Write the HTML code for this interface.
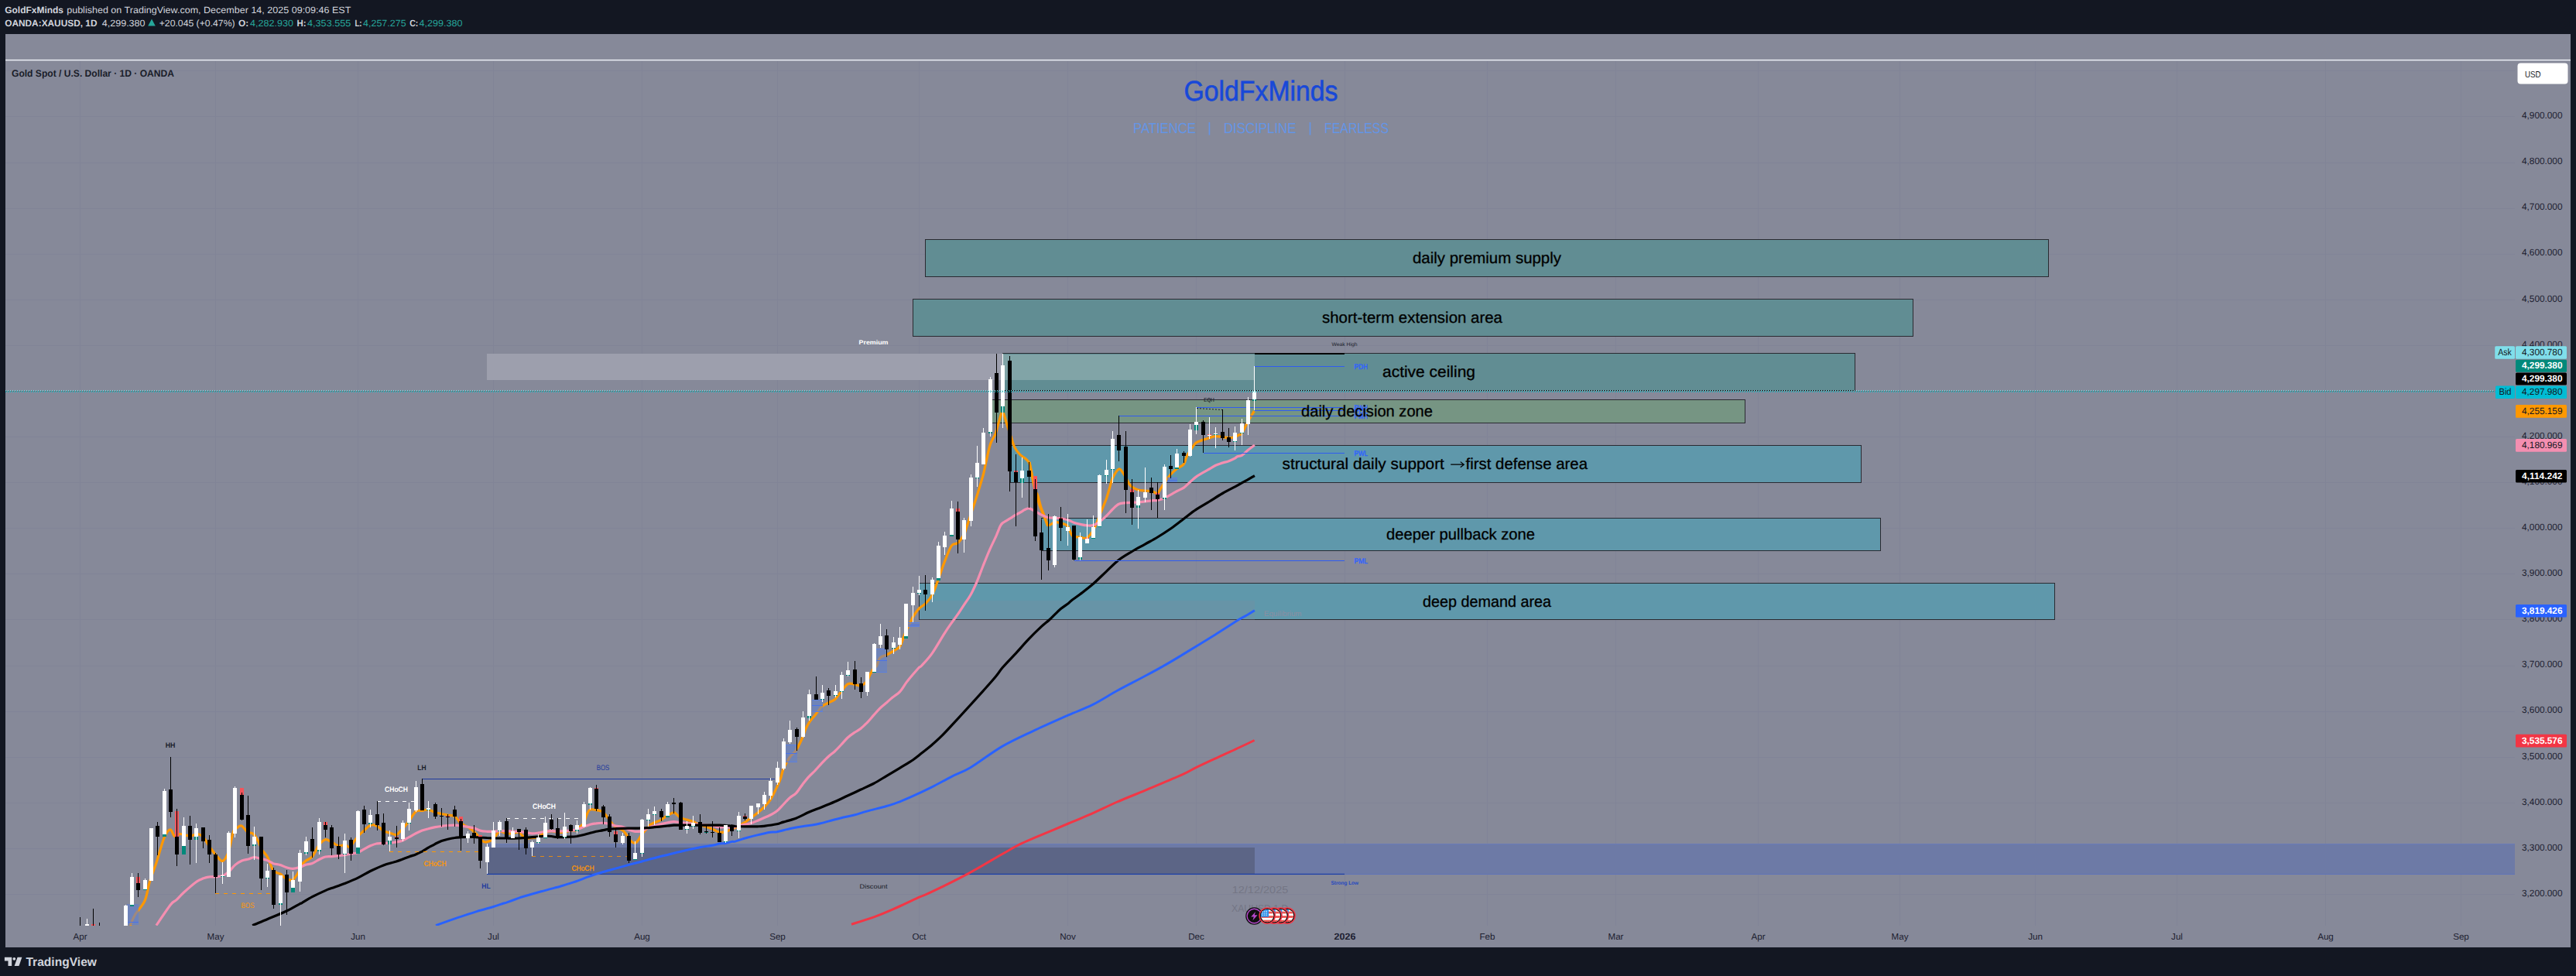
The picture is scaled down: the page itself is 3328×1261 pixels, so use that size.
<!DOCTYPE html>
<html><head><meta charset="utf-8"><title>XAUUSD</title>
<style>html,body{margin:0;padding:0;background:#131722;}body{width:3328px;height:1261px;overflow:hidden;font-family:"Liberation Sans", sans-serif;}svg{display:block}</style>
</head><body>
<svg width="3328" height="1261" viewBox="0 0 3328 1261" font-family='"Liberation Sans", sans-serif' shape-rendering="crispEdges" text-rendering="geometricPrecision">
<rect x="0" y="0" width="3328" height="1261" fill="#131722"/>
<rect x="7" y="44" width="3314" height="1180" fill="#868999"/>
<rect x="103" y="79" width="1" height="1117" fill="#818497"/>
<rect x="278" y="79" width="1" height="1117" fill="#818497"/>
<rect x="462" y="79" width="1" height="1117" fill="#818497"/>
<rect x="637" y="79" width="1" height="1117" fill="#818497"/>
<rect x="829" y="79" width="1" height="1117" fill="#818497"/>
<rect x="1004" y="79" width="1" height="1117" fill="#818497"/>
<rect x="1187" y="79" width="1" height="1117" fill="#818497"/>
<rect x="1379" y="79" width="1" height="1117" fill="#818497"/>
<rect x="1545" y="79" width="1" height="1117" fill="#818497"/>
<rect x="1737" y="79" width="1" height="1117" fill="#818497"/>
<rect x="1921" y="79" width="1" height="1117" fill="#818497"/>
<rect x="2087" y="79" width="1" height="1117" fill="#818497"/>
<rect x="2271" y="79" width="1" height="1117" fill="#818497"/>
<rect x="2454" y="79" width="1" height="1117" fill="#818497"/>
<rect x="2629" y="79" width="1" height="1117" fill="#818497"/>
<rect x="2812" y="79" width="1" height="1117" fill="#818497"/>
<rect x="3004" y="79" width="1" height="1117" fill="#818497"/>
<rect x="3179" y="79" width="1" height="1117" fill="#818497"/>
<rect x="7" y="1155" width="3242" height="1" fill="#818497"/>
<rect x="7" y="1096" width="3242" height="1" fill="#818497"/>
<rect x="7" y="1037" width="3242" height="1" fill="#818497"/>
<rect x="7" y="978" width="3242" height="1" fill="#818497"/>
<rect x="7" y="919" width="3242" height="1" fill="#818497"/>
<rect x="7" y="860" width="3242" height="1" fill="#818497"/>
<rect x="7" y="800" width="3242" height="1" fill="#818497"/>
<rect x="7" y="741" width="3242" height="1" fill="#818497"/>
<rect x="7" y="682" width="3242" height="1" fill="#818497"/>
<rect x="7" y="623" width="3242" height="1" fill="#818497"/>
<rect x="7" y="564" width="3242" height="1" fill="#818497"/>
<rect x="7" y="505" width="3242" height="1" fill="#818497"/>
<rect x="7" y="446" width="3242" height="1" fill="#818497"/>
<rect x="7" y="387" width="3242" height="1" fill="#818497"/>
<rect x="7" y="328" width="3242" height="1" fill="#818497"/>
<rect x="7" y="269" width="3242" height="1" fill="#818497"/>
<rect x="7" y="210" width="3242" height="1" fill="#818497"/>
<rect x="7" y="150" width="3242" height="1" fill="#818497"/>
<rect x="7" y="91" width="3242" height="1" fill="#818497"/>
<rect x="629" y="457" width="667" height="34" fill="#9d9fad"/>
<rect x="629" y="1090" width="2620" height="40" fill="#6d7aa6"/>
<rect x="629" y="1090" width="2620" height="1" fill="#6a7bb8"/>
<rect x="629" y="1129" width="2620" height="1" fill="#5e73b8"/>
<rect x="629" y="1095" width="992" height="35" fill="#5c6586"/>
<rect x="629" y="1128.8" width="1108" height="1.25" fill="#1c3fa8" shape-rendering="geometricPrecision"/>
<rect x="1195" y="309" width="1452" height="49" fill="#2a2a31"/>
<rect x="1196" y="310" width="1450" height="47" fill="#618d93"/>
<rect x="1179" y="386" width="1293" height="49" fill="#2a2a31"/>
<rect x="1180" y="387" width="1291" height="47" fill="#618d93"/>
<rect x="1295" y="456" width="1102" height="49" fill="#2a2a31"/>
<rect x="1296" y="457" width="1100" height="47" fill="#618d93"/>
<rect x="1296" y="458" width="325" height="33" fill="#81a4a7"/>
<rect x="1280" y="516" width="975" height="31" fill="#2a2a31"/>
<rect x="1281" y="517" width="973" height="29" fill="#769583"/>
<rect x="1305" y="575" width="1100" height="49" fill="#2a2a31"/>
<rect x="1306" y="576" width="1098" height="47" fill="#5f98ab"/>
<rect x="1345" y="669" width="1085" height="43" fill="#2a2a31"/>
<rect x="1346" y="670" width="1083" height="41" fill="#5f98ab"/>
<rect x="1187" y="753" width="1468" height="48" fill="#2a2a31"/>
<rect x="1188" y="754" width="1466" height="46" fill="#5f98ab"/>
<rect x="1188" y="776" width="433" height="25" fill="#868999" fill-opacity="0.2"/>
<!--ZONES-->
<defs><clipPath id="pane"><rect x="7" y="79" width="3242" height="1117"/></clipPath></defs>
<g clip-path="url(#pane)">
<path d="M1100.0,1194.2C1105.3,1192.5 1121.8,1187.4 1131.6,1183.8C1141.4,1180.2 1149.3,1176.6 1158.8,1172.5C1168.2,1168.4 1180.6,1162.3 1188.1,1158.9C1195.7,1155.6 1193.8,1157.1 1203.9,1152.2C1214.1,1147.3 1234.1,1137.6 1249.1,1129.6C1264.2,1121.5 1283.0,1110.2 1294.3,1103.8C1305.6,1097.4 1309.4,1094.9 1316.9,1091.2C1324.5,1087.4 1329.0,1085.7 1339.5,1081.2C1350.1,1076.7 1368.9,1068.8 1380.2,1064.0C1391.5,1059.3 1396.8,1057.4 1407.3,1052.7C1417.9,1048.1 1431.4,1041.3 1443.5,1036.0C1455.5,1030.8 1465.3,1027.1 1479.6,1021.1C1493.9,1015.1 1518.4,1004.8 1529.3,999.9C1540.3,995.0 1536.9,995.7 1545.2,991.7C1553.4,987.7 1569.6,980.3 1579.0,975.9C1588.5,971.5 1594.7,968.8 1601.6,965.5C1608.6,962.3 1617.5,958.0 1620.6,956.5" fill="none" stroke="#f23645" stroke-width="3.0" stroke-linejoin="round" stroke-linecap="butt" shape-rendering="geometricPrecision"/>
<path d="M563.0,1195.6C567.7,1193.9 582.5,1188.7 591.3,1185.7C600.1,1182.7 608.2,1180.0 615.9,1177.6C623.6,1175.2 631.6,1173.2 637.3,1171.5C643.0,1169.8 647.2,1168.2 650.0,1167.3C652.8,1166.4 650.9,1167.2 654.3,1166.1C657.6,1164.9 666.6,1161.6 670.0,1160.4C673.4,1159.2 669.7,1160.1 674.6,1158.7C679.5,1157.3 691.0,1154.1 699.2,1151.8C707.4,1149.5 717.2,1147.0 723.8,1145.2C730.3,1143.3 733.6,1142.4 738.5,1140.7C743.4,1139.1 748.0,1137.3 753.3,1135.3C758.6,1133.4 764.5,1131.0 770.2,1129.2C776.0,1127.3 780.7,1126.2 787.7,1124.3C794.7,1122.3 805.4,1119.3 812.3,1117.4C819.2,1115.5 822.3,1114.8 829.3,1113.0C836.3,1111.1 846.0,1108.4 854.3,1106.3C862.7,1104.2 871.1,1102.1 879.4,1100.2C887.7,1098.2 897.4,1096.1 904.3,1094.8C911.1,1093.4 916.2,1093.1 920.5,1092.3C924.8,1091.5 927.2,1090.4 930.0,1089.9C932.8,1089.5 934.9,1090.0 937.5,1089.6C940.0,1089.2 943.2,1087.9 945.2,1087.5C947.3,1087.0 947.3,1087.8 950.0,1087.1C952.7,1086.4 957.0,1084.7 961.7,1083.3C966.5,1081.9 972.9,1080.2 978.4,1078.9C984.0,1077.5 991.0,1075.9 995.2,1075.2C999.3,1074.5 999.3,1075.4 1003.5,1074.7C1007.7,1073.9 1014.7,1071.9 1020.2,1070.7C1025.8,1069.6 1031.2,1068.7 1036.7,1067.8C1042.3,1066.9 1047.9,1066.4 1053.4,1065.3C1059.0,1064.2 1064.6,1062.6 1070.2,1061.1C1075.7,1059.7 1081.3,1058.1 1086.9,1056.7C1092.5,1055.4 1098.1,1054.5 1103.6,1053.0C1109.1,1051.6 1113.2,1050.0 1120.1,1048.1C1127.0,1046.2 1138.1,1043.5 1145.2,1041.5C1152.2,1039.4 1156.6,1038.0 1162.4,1035.8C1168.1,1033.6 1172.8,1031.5 1179.6,1028.4C1186.4,1025.4 1194.5,1021.6 1203.0,1017.4C1211.4,1013.2 1221.5,1007.4 1230.0,1003.1C1238.5,998.8 1242.9,998.1 1253.7,991.7C1264.4,985.3 1280.8,972.5 1294.3,964.6C1307.9,956.7 1320.7,951.1 1335.0,944.3C1349.3,937.5 1367.4,929.6 1380.2,923.9C1393.0,918.3 1401.3,915.7 1411.8,910.4C1422.4,905.1 1432.2,898.5 1443.5,892.3C1454.8,886.1 1469.1,879.0 1479.6,873.3C1490.2,867.7 1498.5,863.2 1506.7,858.4C1515.0,853.7 1518.8,851.3 1529.3,844.9C1539.9,838.5 1557.9,827.5 1570.0,820.0C1582.1,812.5 1594.8,804.0 1601.7,799.8C1608.7,795.5 1608.6,796.2 1611.8,794.3C1615.0,792.5 1619.4,789.6 1620.9,788.7" fill="none" stroke="#2962ff" stroke-width="3.0" stroke-linejoin="round" stroke-linecap="butt" shape-rendering="geometricPrecision"/>
<path d="M168.2,1195.6C169.3,1193.2 171.7,1186.6 174.8,1181.3C178.0,1176.0 184.1,1170.6 187.1,1163.6C190.2,1156.6 190.8,1147.6 193.3,1139.5C195.7,1131.4 198.7,1124.5 201.9,1114.9C205.0,1105.4 209.2,1089.4 212.2,1082.2C215.2,1075.0 217.6,1072.2 219.8,1071.9C222.1,1071.6 223.6,1079.5 225.7,1080.5C227.9,1081.4 230.2,1077.7 232.6,1077.5C235.0,1077.3 237.5,1078.9 240.0,1079.3C242.5,1079.6 244.9,1080.0 247.4,1079.8C249.8,1079.5 252.3,1077.3 254.8,1077.5C257.2,1077.7 259.5,1078.2 262.1,1081.0C264.8,1083.7 267.9,1090.0 270.7,1094.0C273.6,1098.0 276.6,1102.0 279.3,1105.1C282.1,1108.2 284.8,1113.3 287.5,1112.5C290.1,1111.6 293.0,1106.5 295.3,1100.2C297.7,1093.8 299.6,1079.5 301.5,1074.3C303.3,1069.2 304.6,1070.7 306.4,1069.4C308.2,1068.2 309.8,1066.0 312.0,1067.0C314.3,1067.9 317.4,1073.3 319.9,1075.1C322.5,1076.8 325.0,1075.6 327.3,1077.5C329.5,1079.5 331.6,1083.3 333.4,1086.6C335.3,1090.0 336.3,1094.2 338.4,1097.7C340.4,1101.2 343.3,1103.0 345.7,1107.5C348.2,1112.0 350.4,1121.1 353.1,1124.8C355.9,1128.4 359.4,1127.4 362.2,1129.2C365.1,1131.0 367.5,1134.3 370.2,1135.6C372.8,1136.8 375.6,1138.2 378.3,1136.6C380.9,1135.0 384.2,1129.2 386.1,1126.0C388.1,1122.8 388.6,1119.6 390.0,1117.4C391.4,1115.1 392.3,1114.2 394.6,1112.5C396.8,1110.7 400.5,1110.3 403.4,1106.8C406.4,1103.3 409.5,1095.2 412.3,1091.6C415.1,1087.9 417.7,1085.3 420.4,1084.7C423.1,1084.1 425.5,1086.5 428.3,1087.9C431.1,1089.2 434.3,1092.2 437.1,1092.8C440.0,1093.4 443.1,1091.4 445.2,1091.6C447.4,1091.8 448.6,1093.8 449.9,1094.0C451.3,1094.2 451.3,1095.0 453.4,1092.8C455.5,1090.5 459.6,1083.8 462.5,1080.5C465.3,1077.2 467.7,1075.5 470.3,1073.1C473.0,1070.7 476.1,1067.4 478.4,1066.2C480.8,1065.1 482.3,1065.7 484.3,1066.2C486.4,1066.8 488.6,1068.2 490.5,1069.4C492.3,1070.7 493.3,1072.5 495.4,1073.6C497.5,1074.7 500.5,1075.2 503.3,1076.1C506.1,1076.9 509.8,1078.9 512.1,1078.5C514.5,1078.1 515.8,1075.3 517.5,1073.6C519.3,1071.9 520.7,1070.3 522.5,1068.2C524.3,1066.1 525.9,1064.1 528.4,1060.8C530.8,1057.5 534.4,1050.8 537.2,1048.5C540.0,1046.3 542.6,1047.7 545.3,1047.3C548.0,1046.9 550.6,1045.7 553.4,1046.1C556.3,1046.5 559.5,1048.9 562.3,1049.8C565.1,1050.7 567.7,1050.9 570.4,1051.5C573.1,1052.0 575.7,1052.4 578.5,1053.0C581.4,1053.5 584.8,1053.2 587.4,1054.7C589.9,1056.2 591.9,1060.2 593.8,1062.0C595.7,1063.9 596.6,1064.5 598.7,1065.7C600.7,1067.0 603.6,1067.8 606.1,1069.4C608.5,1071.1 611.4,1073.7 613.4,1075.6C615.5,1077.4 616.7,1078.6 618.4,1080.5C620.0,1082.3 621.6,1085.4 623.3,1086.6C624.9,1087.9 625.9,1088.3 628.2,1087.9C630.5,1087.5 635.0,1085.8 637.3,1084.2C639.5,1082.5 640.4,1079.8 641.7,1078.0C643.1,1076.3 644.0,1074.1 645.4,1073.6C646.8,1073.2 648.7,1074.8 650.2,1075.3C651.6,1075.9 653.1,1076.6 654.3,1076.8C655.5,1077.0 656.0,1076.8 657.4,1076.8C658.7,1076.8 660.2,1076.8 662.3,1076.6C664.5,1076.3 668.0,1074.7 670.2,1075.3C672.5,1076.0 674.1,1079.2 675.8,1080.5C677.6,1081.8 678.8,1082.6 680.7,1083.0C682.7,1083.3 685.0,1082.7 687.4,1082.5C689.8,1082.2 692.4,1082.4 695.2,1081.2C698.1,1080.1 701.5,1076.8 704.3,1075.6C707.2,1074.3 709.8,1073.7 712.5,1073.6C715.1,1073.5 717.5,1074.8 720.3,1075.1C723.1,1075.3 726.4,1075.4 729.2,1075.1C732.0,1074.8 734.6,1073.5 737.3,1073.1C740.0,1072.7 743.4,1073.4 745.4,1072.6C747.5,1071.8 748.1,1069.8 749.6,1068.2C751.1,1066.6 752.8,1065.9 754.3,1063.3C755.7,1060.6 756.8,1055.1 758.2,1052.2C759.5,1049.3 760.4,1047.0 762.4,1046.1C764.4,1045.1 767.9,1046.2 770.2,1046.6C772.6,1046.9 775.1,1047.5 776.6,1048.0C778.2,1048.6 778.1,1048.6 779.3,1049.8C780.6,1050.9 782.7,1053.0 784.0,1054.7C785.4,1056.3 786.0,1057.7 787.5,1059.6C788.9,1061.5 790.9,1064.6 792.6,1066.2C794.3,1067.9 795.6,1068.4 797.5,1069.4C799.5,1070.5 802.3,1071.3 804.2,1072.6C806.0,1074.0 807.3,1075.8 808.6,1077.5C810.0,1079.3 811.1,1081.3 812.3,1083.0C813.5,1084.6 814.6,1086.4 816.0,1087.4C817.3,1088.4 819.0,1089.4 820.4,1089.1C821.8,1088.8 823.1,1087.3 824.6,1085.4C826.1,1083.6 827.6,1080.3 829.3,1078.0C830.9,1075.8 832.5,1074.0 834.4,1071.9C836.3,1069.8 838.7,1066.8 840.6,1065.2C842.4,1063.7 843.2,1063.8 845.5,1062.8C847.8,1061.8 851.5,1060.7 854.3,1059.1C857.2,1057.5 859.8,1055.0 862.5,1053.4C865.2,1051.9 868.5,1049.8 870.6,1049.8C872.7,1049.7 873.5,1051.8 875.0,1053.0C876.5,1054.1 877.4,1055.6 879.4,1056.6C881.5,1057.7 884.6,1058.3 887.3,1059.1C890.0,1059.9 892.6,1060.5 895.4,1061.6C898.2,1062.7 901.4,1064.6 904.3,1065.7C907.1,1066.8 909.7,1067.3 912.4,1068.2C915.1,1069.1 917.6,1069.9 920.5,1071.1C923.4,1072.4 927.1,1074.9 929.7,1075.5C932.3,1076.1 934.3,1075.1 936.1,1074.8C937.8,1074.4 938.6,1074.2 940.2,1073.6C941.7,1073.0 943.8,1071.8 945.4,1071.1C947.0,1070.4 948.6,1070.1 950.0,1069.4C951.4,1068.8 951.7,1068.4 953.6,1067.3C955.6,1066.2 959.0,1064.6 961.7,1062.9C964.5,1061.1 967.3,1058.8 970.1,1056.7C972.9,1054.7 975.7,1052.8 978.4,1050.6C981.2,1048.3 984.0,1046.1 986.8,1043.2C989.6,1040.3 992.4,1037.7 995.2,1033.4C998.0,1029.1 1001.3,1022.1 1003.5,1017.4C1005.8,1012.7 1007.3,1009.0 1008.7,1005.1C1010.1,1001.2 1010.0,998.4 1011.9,994.0C1013.8,989.6 1017.5,982.6 1020.2,978.5C1023.0,974.4 1025.6,973.7 1028.4,969.4C1031.1,965.2 1034.7,957.5 1036.7,953.0C1038.8,948.4 1039.3,945.6 1040.7,942.4C1042.0,939.2 1043.0,936.9 1045.1,933.8C1047.2,930.6 1050.7,926.9 1053.4,923.4C1056.2,920.0 1059.0,915.5 1061.8,912.9C1064.6,910.3 1067.4,909.5 1070.2,908.0C1073.0,906.4 1075.7,906.2 1078.5,903.8C1081.3,901.3 1084.1,896.5 1086.9,893.2C1089.7,889.9 1092.5,885.4 1095.2,883.9C1098.0,882.3 1100.9,883.5 1103.6,883.9C1106.4,884.2 1109.0,886.4 1111.7,885.8C1114.5,885.2 1118.1,882.6 1120.1,880.3C1122.1,878.1 1122.2,875.1 1123.6,872.3C1125.1,869.6 1127.3,865.8 1128.8,863.7C1130.3,861.7 1131.6,862.2 1132.9,860.0C1134.2,857.8 1134.5,852.6 1136.6,850.2C1138.6,847.9 1142.2,847.6 1145.2,846.1C1148.1,844.5 1151.4,842.9 1154.3,841.1C1157.1,839.4 1160.4,837.9 1162.4,835.5C1164.3,833.1 1164.8,830.2 1166.1,826.9C1167.4,823.6 1168.8,819.1 1170.2,815.8C1171.7,812.5 1173.2,810.3 1174.7,807.2C1176.2,804.1 1177.3,800.9 1179.3,797.4C1181.4,793.9 1184.5,789.2 1187.2,786.3C1189.9,783.4 1192.5,783.0 1195.3,780.2C1198.2,777.3 1201.4,774.4 1204.2,769.1C1207.0,763.8 1209.6,755.4 1212.3,748.2C1215.0,741.0 1217.3,733.2 1220.2,726.1C1223.0,718.9 1226.4,709.3 1229.3,705.2C1232.1,701.1 1234.7,703.9 1237.4,701.5C1240.1,699.0 1243.5,694.0 1245.5,690.4C1247.5,686.8 1247.7,684.1 1249.2,679.8C1250.7,675.4 1252.1,671.1 1254.3,664.2C1256.6,657.3 1260.1,647.0 1262.8,638.4C1265.5,629.7 1268.8,619.0 1270.6,612.1C1272.4,605.3 1272.3,603.7 1273.8,597.4C1275.2,591.0 1277.4,580.2 1279.4,574.0C1281.5,567.9 1284.1,565.6 1286.1,560.5C1288.0,555.4 1289.4,548.0 1291.0,543.3C1292.5,538.6 1293.8,531.4 1295.4,532.2C1297.0,533.0 1299.1,543.1 1300.8,548.2C1302.5,553.3 1304.1,558.0 1305.7,563.0C1307.4,567.9 1308.6,573.6 1310.7,577.7C1312.7,581.8 1314.9,584.3 1318.0,587.5C1321.1,590.8 1326.7,592.5 1329.3,597.4C1332.0,602.3 1332.7,611.3 1334.0,617.0C1335.4,622.8 1336.0,626.1 1337.5,631.8C1338.9,637.5 1340.9,646.1 1342.6,651.5C1344.3,656.8 1345.7,659.1 1347.5,663.8C1349.4,668.5 1352.7,677.1 1353.7,679.8" fill="none" stroke="#ff9800" stroke-width="3.2" stroke-linejoin="round" stroke-linecap="butt" shape-rendering="geometricPrecision"/>
<path d="M1330.0,596.9C1330.6,600.2 1332.5,610.4 1333.7,616.6C1334.9,622.7 1336.2,629.9 1337.4,633.8C1338.5,637.7 1339.3,636.2 1340.7,640.0C1342.0,643.8 1343.6,651.6 1345.3,656.6C1346.9,661.5 1349.0,665.8 1350.5,669.5C1352.0,673.2 1352.3,677.8 1354.3,678.7C1356.2,679.6 1359.7,675.2 1362.4,674.8C1365.1,674.3 1367.7,675.1 1370.5,675.9C1373.3,676.6 1376.7,676.9 1379.0,679.3C1381.2,681.7 1382.7,688.0 1384.1,690.3C1385.5,692.7 1385.7,692.7 1387.5,693.3C1389.4,693.9 1392.6,693.8 1395.4,694.0C1398.2,694.3 1401.3,696.5 1404.3,694.8C1407.2,693.1 1410.4,688.6 1413.2,683.8C1415.9,679.0 1418.6,670.6 1420.5,666.0C1422.5,661.3 1423.2,659.5 1424.7,655.9C1426.1,652.3 1427.8,648.6 1429.3,644.5C1430.7,640.4 1431.9,635.8 1433.3,631.3C1434.6,626.9 1435.4,622.0 1437.4,617.8C1439.4,613.6 1443.2,607.3 1445.4,606.1C1447.6,604.9 1449.0,608.6 1450.5,610.4C1452.0,612.2 1453.1,614.4 1454.5,616.8C1455.8,619.2 1457.3,622.7 1458.6,624.8C1460.0,626.8 1460.5,627.7 1462.5,629.1C1464.4,630.5 1467.6,632.2 1470.5,633.0C1473.3,633.9 1476.5,633.8 1479.3,634.0C1482.1,634.3 1485.2,634.2 1487.4,634.6C1489.6,635.1 1491.3,636.2 1492.6,636.7C1494.0,637.2 1494.3,638.7 1495.5,637.7C1496.7,636.7 1498.4,633.2 1499.8,630.9C1501.3,628.6 1502.2,626.9 1504.3,623.9C1506.4,620.9 1509.8,615.9 1512.5,612.9C1515.2,609.8 1517.7,607.7 1520.6,605.5C1523.4,603.3 1527.3,602.5 1529.4,599.8C1531.5,597.2 1531.7,592.7 1533.2,589.7C1534.7,586.6 1536.2,584.4 1538.2,581.5C1540.2,578.5 1542.6,574.3 1545.3,572.1C1548.0,569.9 1551.6,569.4 1554.5,568.3C1557.3,567.3 1559.7,566.5 1562.3,565.7C1565.0,565.0 1567.6,563.8 1570.4,563.6C1573.2,563.5 1576.5,564.2 1579.3,564.6C1582.2,564.9 1584.8,565.8 1587.5,565.7C1590.2,565.7 1593.3,565.1 1595.5,564.4C1597.7,563.8 1599.0,562.7 1600.5,562.0C1602.0,561.2 1602.5,562.6 1604.4,559.8C1606.4,556.9 1609.6,549.5 1612.3,544.8C1614.9,540.0 1619.0,533.4 1620.3,531.1" fill="none" stroke="#ff9800" stroke-width="3.2" stroke-linejoin="round" stroke-linecap="butt" shape-rendering="geometricPrecision"/>
<path d="M201.9,1195.6C205.0,1191.1 216.0,1174.5 220.3,1169.0C224.6,1163.6 224.8,1165.5 227.7,1162.9C230.6,1160.2 233.2,1156.9 237.5,1153.0C241.8,1149.1 249.4,1142.5 253.5,1139.5C257.6,1136.5 259.3,1136.2 262.1,1135.1C265.0,1134.0 267.9,1133.2 270.7,1132.9C273.6,1132.5 276.3,1133.2 279.3,1132.9C282.4,1132.5 286.3,1132.2 289.2,1130.9C292.0,1129.6 294.1,1127.5 296.6,1125.2C299.0,1123.0 301.3,1119.6 303.9,1117.4C306.6,1115.2 309.7,1113.2 312.5,1112.0C315.4,1110.7 318.5,1110.7 321.1,1110.0C323.8,1109.3 325.8,1107.7 328.3,1107.5C330.7,1107.4 333.2,1108.6 335.9,1109.3C338.6,1109.9 341.6,1110.2 344.5,1111.2C347.4,1112.3 350.2,1114.6 353.1,1115.7C356.0,1116.7 358.9,1116.5 361.7,1117.4C364.6,1118.2 367.4,1120.0 370.2,1120.8C372.9,1121.6 375.3,1122.4 378.3,1122.3C381.2,1122.2 385.3,1121.0 388.0,1120.2C390.7,1119.4 392.0,1118.2 394.6,1117.4C397.2,1116.6 400.5,1116.6 403.4,1115.4C406.4,1114.3 409.5,1111.9 412.3,1110.5C415.1,1109.1 417.7,1107.7 420.4,1107.0C423.1,1106.4 425.5,1106.8 428.3,1106.6C431.1,1106.3 434.3,1105.9 437.1,1105.6C440.0,1105.2 442.5,1105.0 445.2,1104.6C448.0,1104.2 450.5,1103.6 453.4,1103.1C456.2,1102.6 459.6,1102.4 462.5,1101.4C465.3,1100.4 467.7,1098.6 470.3,1097.2C473.0,1095.8 475.6,1094.0 478.4,1092.8C481.3,1091.6 484.5,1090.4 487.3,1089.8C490.1,1089.3 492.7,1089.7 495.4,1089.6C498.1,1089.5 500.5,1089.4 503.3,1089.1C506.1,1088.8 509.3,1088.4 512.1,1087.9C515.0,1087.3 517.5,1086.9 520.2,1085.9C523.0,1084.9 525.5,1083.2 528.4,1081.7C531.2,1080.2 534.4,1078.2 537.2,1076.8C540.0,1075.4 542.6,1074.1 545.3,1073.1C548.0,1072.1 550.6,1071.4 553.4,1070.7C556.3,1069.9 559.5,1069.2 562.3,1068.7C565.1,1068.2 567.7,1067.8 570.4,1067.5C573.1,1067.1 575.7,1066.7 578.5,1066.5C581.4,1066.3 584.5,1066.1 587.4,1066.2C590.2,1066.3 592.8,1066.6 595.5,1067.0C598.2,1067.3 600.5,1067.7 603.4,1068.2C606.2,1068.7 609.6,1069.1 612.5,1069.9C615.3,1070.7 617.5,1072.4 620.3,1073.1C623.1,1073.9 626.4,1074.1 629.2,1074.3C632.0,1074.5 634.6,1074.5 637.3,1074.3C640.0,1074.2 643.3,1073.7 645.4,1073.6C647.5,1073.5 648.5,1073.6 650.0,1073.6C651.5,1073.6 652.2,1073.5 654.3,1073.6C656.3,1073.7 659.6,1074.2 662.3,1074.3C665.0,1074.5 667.4,1074.1 670.2,1074.3C673.0,1074.5 676.4,1075.2 679.3,1075.6C682.1,1076.0 684.7,1076.7 687.4,1076.8C690.0,1076.9 692.4,1076.5 695.2,1076.1C698.1,1075.7 701.5,1074.8 704.3,1074.3C707.2,1073.9 709.8,1073.6 712.5,1073.6C715.1,1073.6 717.5,1074.3 720.3,1074.3C723.1,1074.3 726.4,1073.8 729.2,1073.6C732.0,1073.4 734.6,1073.4 737.3,1073.1C740.0,1072.8 742.6,1072.7 745.4,1071.9C748.2,1071.1 751.4,1069.3 754.3,1068.2C757.1,1067.1 759.7,1066.0 762.4,1065.2C765.0,1064.5 767.4,1064.1 770.2,1063.8C773.1,1063.4 776.5,1063.2 779.3,1063.3C782.2,1063.4 784.8,1063.9 787.5,1064.5C790.1,1065.1 792.5,1066.4 795.3,1067.0C798.1,1067.6 801.4,1067.4 804.2,1068.2C807.0,1069.0 809.6,1070.9 812.3,1071.9C815.0,1072.9 817.6,1074.1 820.4,1074.3C823.2,1074.6 826.4,1074.4 829.3,1073.6C832.1,1072.8 834.7,1070.5 837.4,1069.4C840.1,1068.3 842.7,1067.8 845.5,1067.0C848.3,1066.1 851.5,1065.2 854.3,1064.5C857.2,1063.8 859.8,1063.3 862.5,1062.8C865.2,1062.3 867.7,1061.6 870.6,1061.6C873.4,1061.6 876.6,1062.5 879.4,1062.8C882.2,1063.1 884.6,1063.0 887.3,1063.3C890.0,1063.6 892.6,1064.2 895.4,1064.5C898.2,1064.8 901.4,1065.0 904.3,1065.2C907.1,1065.5 909.7,1065.9 912.4,1066.2C915.1,1066.5 917.6,1066.5 920.5,1067.0C923.4,1067.4 926.8,1068.8 929.7,1069.0C932.5,1069.2 934.9,1068.1 937.5,1068.2C940.1,1068.3 943.2,1069.8 945.2,1069.8C947.3,1069.8 948.6,1068.6 950.0,1068.2C951.4,1067.8 951.7,1067.8 953.6,1067.3C955.6,1066.8 959.0,1065.9 961.7,1065.3C964.5,1064.7 967.3,1064.4 970.1,1063.6C972.9,1062.8 975.7,1061.6 978.4,1060.4C981.2,1059.3 984.0,1058.0 986.8,1056.7C989.6,1055.5 992.4,1054.5 995.2,1053.0C998.0,1051.6 1000.7,1050.4 1003.5,1048.1C1006.3,1045.9 1009.1,1042.4 1011.9,1039.5C1014.7,1036.6 1017.5,1033.4 1020.2,1030.9C1023.0,1028.4 1025.6,1027.6 1028.4,1024.8C1031.1,1021.9 1033.9,1017.3 1036.7,1013.7C1039.5,1010.1 1042.3,1006.4 1045.1,1003.4C1047.9,1000.3 1050.7,998.2 1053.4,995.2C1056.2,992.3 1059.0,988.9 1061.8,985.9C1064.6,983.0 1067.4,980.1 1070.2,977.5C1073.0,975.0 1075.7,973.2 1078.5,970.7C1081.3,968.1 1084.1,965.0 1086.9,962.0C1089.7,959.1 1092.5,955.5 1095.2,953.0C1098.0,950.4 1100.9,948.4 1103.6,946.6C1106.4,944.7 1109.0,943.8 1111.7,941.6C1114.5,939.5 1117.3,936.6 1120.1,933.8C1122.9,930.9 1125.7,927.5 1128.4,924.4C1131.2,921.4 1133.8,918.1 1136.6,915.3C1139.3,912.6 1142.3,910.4 1145.2,908.0C1148.0,905.5 1150.9,902.9 1153.8,900.6C1156.6,898.2 1159.4,897.2 1162.4,893.9C1165.3,890.7 1168.5,885.0 1171.6,880.9C1174.7,876.9 1178.2,872.9 1180.8,869.8C1183.4,866.8 1185.6,864.2 1187.2,862.5C1188.9,860.9 1187.8,863.1 1190.7,860.0C1193.5,856.9 1199.3,851.1 1204.2,844.1C1209.1,837.1 1216.0,824.8 1220.2,818.3C1224.3,811.7 1226.4,808.9 1229.3,804.8C1232.1,800.7 1234.7,797.6 1237.4,793.7C1240.1,789.8 1242.7,785.7 1245.5,781.4C1248.3,777.1 1251.6,772.8 1254.3,767.9C1257.1,763.0 1259.3,758.0 1262.0,751.9C1264.6,745.7 1267.3,738.0 1270.1,731.0C1272.9,724.0 1275.9,716.4 1278.7,710.1C1281.5,703.7 1284.5,697.9 1286.8,692.9C1289.1,687.8 1290.8,682.6 1292.2,679.8C1293.7,676.9 1293.6,677.1 1295.5,675.6C1297.4,674.1 1300.7,672.5 1303.5,670.7C1306.3,669.0 1309.6,666.8 1312.4,665.2C1315.2,663.5 1318.5,662.0 1320.2,660.9C1322.0,659.8 1321.4,659.5 1323.0,658.9C1324.5,658.2 1327.2,656.5 1329.6,656.8C1332.0,657.1 1334.7,659.3 1337.4,660.7C1340.0,662.0 1342.6,663.7 1345.4,665.1C1348.3,666.4 1351.5,668.0 1354.3,668.7C1357.2,669.4 1359.7,669.0 1362.4,669.2C1365.1,669.4 1367.6,669.5 1370.5,669.9C1373.4,670.3 1376.8,670.8 1379.7,671.7C1382.5,672.6 1384.8,674.2 1387.5,675.2C1390.1,676.2 1392.9,676.8 1395.7,677.4C1398.5,678.0 1401.5,678.7 1404.3,678.9C1407.1,679.1 1409.7,679.5 1412.4,678.6C1415.1,677.8 1417.7,676.0 1420.5,674.0C1423.3,672.0 1426.5,669.3 1429.3,666.6C1432.1,663.9 1434.7,660.6 1437.4,658.0C1440.1,655.4 1442.5,652.6 1445.4,651.2C1448.2,649.8 1451.6,650.0 1454.5,649.6C1457.3,649.3 1459.8,649.4 1462.5,649.3C1465.1,649.2 1467.6,649.2 1470.5,649.0C1473.3,648.8 1476.5,648.3 1479.3,647.9C1482.1,647.6 1484.7,647.2 1487.4,646.9C1490.1,646.7 1493.4,646.6 1495.5,646.3C1497.6,646.0 1498.5,645.8 1500.0,645.3C1501.5,644.9 1502.3,644.6 1504.3,643.6C1506.4,642.6 1509.8,640.7 1512.5,639.2C1515.2,637.7 1517.7,636.0 1520.6,634.5C1523.4,633.0 1526.6,632.0 1529.4,630.1C1532.3,628.1 1534.9,625.0 1537.5,622.7C1540.2,620.4 1542.3,618.1 1545.2,616.1C1548.0,614.0 1551.6,612.1 1554.5,610.4C1557.4,608.7 1559.7,607.5 1562.4,606.0C1565.0,604.5 1567.7,602.6 1570.5,601.3C1573.3,600.0 1576.5,599.1 1579.3,598.1C1582.2,597.2 1584.8,596.7 1587.5,595.7C1590.2,594.6 1593.7,592.9 1595.6,592.0C1597.4,591.0 1597.2,590.5 1598.7,589.8C1600.2,589.2 1602.2,589.6 1604.4,588.3C1606.7,586.9 1609.3,583.9 1612.0,581.7C1614.8,579.5 1619.4,576.1 1620.9,574.9" fill="none" stroke="#f48fb1" stroke-width="3.2" stroke-linejoin="round" stroke-linecap="butt" shape-rendering="geometricPrecision"/>
<path d="M326.1,1195.6C329.3,1194.2 338.4,1190.6 345.7,1187.5C353.1,1184.4 363.3,1180.3 370.2,1177.0C377.1,1173.7 383.9,1169.5 387.2,1167.8C390.5,1166.0 387.3,1168.1 390.0,1166.6C392.7,1165.0 398.4,1161.4 403.4,1158.7C408.5,1156.0 416.3,1152.4 420.4,1150.6C424.5,1148.7 424.1,1149.1 428.3,1147.6C432.4,1146.1 439.5,1143.7 445.2,1141.5C450.9,1139.2 456.9,1136.8 462.5,1134.1C468.0,1131.4 473.0,1128.2 478.4,1125.5C483.9,1122.8 489.8,1120.0 495.4,1117.9C501.0,1115.8 506.6,1114.8 512.1,1113.0C517.6,1111.1 524.2,1108.6 528.4,1107.0C532.5,1105.5 534.4,1105.0 537.2,1103.9C540.0,1102.7 542.6,1101.6 545.3,1100.2C548.0,1098.7 550.6,1096.9 553.4,1095.2C556.3,1093.6 559.5,1091.8 562.3,1090.3C565.1,1088.9 567.7,1087.7 570.4,1086.6C573.1,1085.6 575.7,1084.9 578.5,1084.2C581.4,1083.5 584.5,1082.9 587.4,1082.5C590.2,1082.0 592.8,1081.9 595.5,1081.7C598.2,1081.6 600.5,1081.5 603.4,1081.5C606.2,1081.4 609.6,1081.4 612.5,1081.5C615.3,1081.6 617.5,1081.8 620.3,1082.0C623.1,1082.1 626.4,1082.3 629.2,1082.5C632.0,1082.6 633.8,1082.9 637.3,1083.0C640.8,1083.0 647.2,1083.0 650.0,1083.0C652.8,1083.0 650.9,1083.0 654.3,1083.0C657.6,1083.0 664.7,1083.2 670.2,1083.0C675.7,1082.7 683.2,1082.0 687.4,1081.7C691.6,1081.4 692.4,1081.3 695.2,1081.0C698.1,1080.7 701.5,1080.1 704.3,1080.0C707.2,1079.9 709.8,1080.2 712.5,1080.5C715.1,1080.8 716.2,1081.6 720.3,1081.7C724.5,1081.8 733.1,1081.4 737.3,1081.2C741.5,1081.0 742.6,1080.9 745.4,1080.5C748.2,1080.0 751.4,1079.2 754.3,1078.5C757.1,1077.8 759.7,1077.0 762.4,1076.3C765.0,1075.6 767.4,1075.0 770.2,1074.3C773.1,1073.7 776.5,1073.2 779.3,1072.6C782.2,1072.1 784.8,1071.5 787.5,1071.1C790.1,1070.8 791.2,1070.8 795.3,1070.7C799.5,1070.5 806.6,1070.3 812.3,1070.2C818.0,1070.0 823.7,1070.2 829.3,1069.9C834.8,1069.7 840.0,1069.2 845.5,1068.7C851.0,1068.2 858.3,1067.4 862.5,1067.0C866.6,1066.6 867.7,1066.4 870.6,1066.2C873.4,1066.1 875.3,1066.2 879.4,1066.2C883.6,1066.2 889.9,1066.2 895.4,1066.2C900.9,1066.2 906.7,1066.2 912.4,1066.2C918.1,1066.2 925.5,1066.1 929.7,1066.1C933.9,1066.2 934.9,1066.3 937.5,1066.5C940.1,1066.6 943.2,1066.9 945.2,1067.0C947.3,1067.2 947.3,1067.3 950.0,1067.5C952.7,1067.6 957.0,1067.7 961.7,1067.8C966.5,1067.8 974.3,1067.9 978.4,1067.8C982.6,1067.7 982.6,1067.8 986.8,1067.3C991.0,1066.8 999.3,1065.7 1003.5,1064.8C1007.7,1064.0 1007.7,1063.4 1011.9,1062.1C1016.0,1060.9 1022.8,1059.3 1028.4,1057.2C1033.9,1055.1 1039.5,1051.8 1045.1,1049.3C1050.7,1046.9 1056.2,1045.0 1061.8,1042.7C1067.4,1040.5 1073.0,1038.3 1078.5,1035.8C1084.1,1033.4 1089.7,1030.5 1095.2,1028.0C1100.8,1025.4 1106.2,1022.9 1111.7,1020.3C1117.3,1017.7 1122.9,1015.4 1128.4,1012.5C1134.0,1009.5 1139.5,1006.0 1145.2,1002.6C1150.8,999.3 1156.6,995.8 1162.4,992.3C1168.1,988.8 1174.9,984.9 1179.6,981.7C1184.3,978.5 1186.8,976.2 1190.7,973.1C1194.5,970.0 1198.9,966.8 1203.0,963.3C1207.0,959.8 1210.7,956.6 1215.2,952.2C1219.8,947.8 1218.9,948.8 1230.0,936.7C1241.1,924.6 1270.8,892.1 1281.6,879.8C1292.5,867.4 1290.0,868.5 1295.2,862.5C1300.3,856.6 1306.7,850.2 1312.4,844.1C1318.0,838.0 1323.6,831.4 1329.1,825.7C1334.6,819.9 1340.9,813.8 1345.3,809.7C1349.7,805.6 1352.7,803.6 1355.5,801.0C1358.3,798.5 1359.8,796.8 1362.3,794.4C1364.8,792.0 1367.5,789.1 1370.5,786.6C1373.4,784.2 1377.7,781.5 1380.0,779.7C1382.3,777.9 1381.5,777.9 1384.1,775.9C1386.7,773.9 1390.7,771.4 1395.4,767.8C1400.1,764.2 1406.7,759.2 1412.4,754.3C1418.0,749.3 1423.9,743.4 1429.3,738.3C1434.8,733.2 1439.8,727.8 1445.3,723.5C1450.9,719.2 1456.9,715.9 1462.5,712.5C1468.2,709.1 1473.8,706.2 1479.3,703.1C1484.8,700.0 1490.0,697.4 1495.5,694.0C1501.0,690.7 1506.8,686.9 1512.5,683.0C1518.1,679.0 1524.0,674.3 1529.4,670.2C1534.9,666.1 1539.7,662.0 1545.2,658.4C1550.7,654.7 1556.7,651.5 1562.4,648.0C1568.1,644.5 1573.8,640.7 1579.3,637.5C1584.9,634.3 1591.4,631.1 1595.6,628.9C1599.8,626.6 1601.7,625.5 1604.4,623.9C1607.1,622.4 1609.1,621.3 1611.8,619.8C1614.5,618.2 1619.4,615.5 1620.9,614.6" fill="none" stroke="#000000" stroke-width="3.2" stroke-linejoin="round" stroke-linecap="butt" shape-rendering="geometricPrecision"/>
<rect x="1621" y="456" width="116" height="2" fill="#000000"/>
<rect x="1621" y="473" width="116" height="1" fill="#2f5cf0"/>
<rect x="1546" y="526" width="191" height="1" fill="#2f5cf0"/>
<rect x="1621" y="530" width="116" height="1" fill="#2f5cf0"/>
<rect x="1446" y="537" width="291" height="1" fill="#2f5cf0"/>
<rect x="1555" y="585" width="182" height="1" fill="#2f5cf0"/>
<rect x="1388" y="724" width="349" height="1" fill="#2f5cf0"/>
<line x1="1546" y1="527.5" x2="1579" y2="529.5" stroke="#1a1d29" stroke-width="1" stroke-dasharray="2 2" shape-rendering="geometricPrecision"/>
<rect x="545" y="1006" width="456" height="1" fill="#1e3a9e"/>
<line x1="278" y1="1154.5" x2="349" y2="1154.5" stroke="#ff9800" stroke-width="1" stroke-dasharray="5 6"/>
<line x1="487" y1="1035.5" x2="535" y2="1035.5" stroke="#ffffff" stroke-width="1" stroke-dasharray="5 6"/>
<line x1="503" y1="1100.5" x2="618" y2="1100.5" stroke="#ff9800" stroke-width="1" stroke-dasharray="5 6"/>
<line x1="654" y1="1057.5" x2="747" y2="1057.5" stroke="#ffffff" stroke-width="1" stroke-dasharray="5 6"/>
<line x1="687" y1="1106.5" x2="810" y2="1106.5" stroke="#e08a1a" stroke-width="1" stroke-dasharray="5 6"/>
<rect x="1015" y="962" width="15" height="23" fill="#5f7fd0" fill-opacity="0.55"/>
<rect x="1015" y="962" width="15" height="1" fill="#5b7fe0"/><rect x="1015" y="984" width="15" height="1" fill="#5b7fe0"/><rect x="1015" y="973" width="15" height="1" fill="#4a72e8"/>
<rect x="1049" y="904" width="14" height="16" fill="#5f7fd0" fill-opacity="0.55"/>
<rect x="1049" y="904" width="14" height="1" fill="#5b7fe0"/><rect x="1049" y="919" width="14" height="1" fill="#5b7fe0"/><rect x="1049" y="911" width="14" height="1" fill="#4a72e8"/>
<rect x="1132" y="838" width="14" height="31" fill="#5f7fd0" fill-opacity="0.55"/>
<rect x="1132" y="838" width="14" height="1" fill="#5b7fe0"/><rect x="1132" y="868" width="14" height="1" fill="#5b7fe0"/><rect x="1132" y="853" width="14" height="1" fill="#4a72e8"/>
<rect x="1173" y="804" width="15" height="6" fill="#5f7fd0" fill-opacity="0.55"/>
<rect x="1173" y="804" width="15" height="1" fill="#5b7fe0"/><rect x="1173" y="809" width="15" height="1" fill="#5b7fe0"/><rect x="1173" y="807" width="15" height="1" fill="#4a72e8"/>
<rect x="1508" y="617" width="13" height="6" fill="#5f7fd0" fill-opacity="0.55"/>
<rect x="1508" y="617" width="13" height="1" fill="#5b7fe0"/><rect x="1508" y="622" width="13" height="1" fill="#5b7fe0"/><rect x="1508" y="620" width="13" height="1" fill="#4a72e8"/>
<rect x="164" y="1168" width="15" height="27" fill="#5f7fd0" fill-opacity="0.6"/><rect x="164" y="1191" width="15" height="1" fill="#4a72e8"/>
<rect x="101" y="1200" width="5" height="1" fill="#000000"/>
<rect x="103" y="1185" width="1" height="15" fill="#000000"/>
<rect x="110" y="1194" width="5" height="6" fill="#ffffff"/>
<rect x="112" y="1187" width="1" height="13" fill="#ffffff"/>
<rect x="118" y="1194" width="5" height="6" fill="#000000"/>
<rect x="118" y="1194" width="5" height="6" fill="#f2545b"/>
<rect x="120" y="1174" width="1" height="26" fill="#000000"/>
<rect x="126" y="1200" width="5" height="1" fill="#000000"/>
<rect x="128" y="1192" width="1" height="8" fill="#000000"/>
<rect x="160" y="1170" width="5" height="30" fill="#ffffff"/>
<rect x="162" y="1169" width="1" height="31" fill="#ffffff"/>
<rect x="168" y="1133" width="5" height="36" fill="#ffffff"/>
<rect x="168" y="1169" width="5" height="2" fill="#00897b"/>
<rect x="170" y="1128" width="1" height="41" fill="#ffffff"/>
<rect x="176" y="1141" width="5" height="9" fill="#000000"/>
<rect x="176" y="1133" width="5" height="8" fill="#f2545b"/>
<rect x="178" y="1128" width="1" height="31" fill="#000000"/>
<rect x="185" y="1137" width="5" height="12" fill="#ffffff"/>
<rect x="185" y="1149" width="5" height="1" fill="#00897b"/>
<rect x="187" y="1135" width="1" height="14" fill="#ffffff"/>
<rect x="193" y="1070" width="5" height="68" fill="#ffffff"/>
<rect x="195" y="1070" width="1" height="68" fill="#ffffff"/>
<rect x="201" y="1067" width="5" height="14" fill="#000000"/>
<rect x="203" y="1062" width="1" height="43" fill="#000000"/>
<rect x="210" y="1022" width="5" height="56" fill="#ffffff"/>
<rect x="210" y="1078" width="5" height="3" fill="#00897b"/>
<rect x="212" y="1019" width="1" height="59" fill="#ffffff"/>
<rect x="218" y="1020" width="5" height="29" fill="#000000"/>
<rect x="220" y="978" width="1" height="78" fill="#000000"/>
<rect x="226" y="1081" width="5" height="23" fill="#000000"/>
<rect x="226" y="1048" width="5" height="33" fill="#f2545b"/>
<rect x="228" y="1045" width="1" height="74" fill="#000000"/>
<rect x="235" y="1067" width="5" height="26" fill="#ffffff"/>
<rect x="235" y="1093" width="5" height="11" fill="#00897b"/>
<rect x="237" y="1056" width="1" height="37" fill="#ffffff"/>
<rect x="243" y="1067" width="5" height="18" fill="#000000"/>
<rect x="245" y="1054" width="1" height="63" fill="#000000"/>
<rect x="251" y="1070" width="5" height="11" fill="#ffffff"/>
<rect x="251" y="1081" width="5" height="4" fill="#00897b"/>
<rect x="253" y="1064" width="1" height="51" fill="#ffffff"/>
<rect x="260" y="1069" width="5" height="18" fill="#000000"/>
<rect x="262" y="1069" width="1" height="27" fill="#000000"/>
<rect x="268" y="1085" width="5" height="19" fill="#000000"/>
<rect x="270" y="1079" width="1" height="36" fill="#000000"/>
<rect x="276" y="1104" width="5" height="29" fill="#000000"/>
<rect x="278" y="1102" width="1" height="52" fill="#000000"/>
<rect x="285" y="1131" width="5" height="1" fill="#ffffff"/>
<rect x="285" y="1132" width="5" height="1" fill="#00897b"/>
<rect x="287" y="1114" width="1" height="28" fill="#ffffff"/>
<rect x="293" y="1076" width="5" height="57" fill="#ffffff"/>
<rect x="295" y="1074" width="1" height="59" fill="#ffffff"/>
<rect x="301" y="1018" width="5" height="59" fill="#ffffff"/>
<rect x="303" y="1016" width="1" height="66" fill="#ffffff"/>
<rect x="310" y="1027" width="5" height="32" fill="#000000"/>
<rect x="310" y="1018" width="5" height="9" fill="#f2545b"/>
<rect x="312" y="1024" width="1" height="36" fill="#000000"/>
<rect x="318" y="1053" width="5" height="40" fill="#000000"/>
<rect x="320" y="1028" width="1" height="75" fill="#000000"/>
<rect x="326" y="1081" width="5" height="10" fill="#ffffff"/>
<rect x="326" y="1091" width="5" height="2" fill="#00897b"/>
<rect x="328" y="1068" width="1" height="43" fill="#ffffff"/>
<rect x="335" y="1081" width="5" height="54" fill="#000000"/>
<rect x="337" y="1081" width="1" height="69" fill="#000000"/>
<rect x="343" y="1125" width="5" height="9" fill="#ffffff"/>
<rect x="343" y="1134" width="5" height="1" fill="#00897b"/>
<rect x="345" y="1116" width="1" height="30" fill="#ffffff"/>
<rect x="351" y="1124" width="5" height="45" fill="#000000"/>
<rect x="353" y="1121" width="1" height="53" fill="#000000"/>
<rect x="360" y="1131" width="5" height="36" fill="#ffffff"/>
<rect x="360" y="1167" width="5" height="2" fill="#00897b"/>
<rect x="362" y="1131" width="1" height="69" fill="#ffffff"/>
<rect x="368" y="1130" width="5" height="23" fill="#000000"/>
<rect x="370" y="1124" width="1" height="58" fill="#000000"/>
<rect x="376" y="1137" width="5" height="10" fill="#ffffff"/>
<rect x="376" y="1147" width="5" height="6" fill="#00897b"/>
<rect x="378" y="1126" width="1" height="21" fill="#ffffff"/>
<rect x="385" y="1102" width="5" height="37" fill="#ffffff"/>
<rect x="387" y="1098" width="1" height="54" fill="#ffffff"/>
<rect x="393" y="1087" width="5" height="14" fill="#ffffff"/>
<rect x="393" y="1101" width="5" height="2" fill="#00897b"/>
<rect x="395" y="1081" width="1" height="24" fill="#ffffff"/>
<rect x="401" y="1084" width="5" height="16" fill="#000000"/>
<rect x="403" y="1069" width="1" height="39" fill="#000000"/>
<rect x="410" y="1062" width="5" height="36" fill="#ffffff"/>
<rect x="410" y="1098" width="5" height="2" fill="#00897b"/>
<rect x="412" y="1057" width="1" height="47" fill="#ffffff"/>
<rect x="418" y="1066" width="5" height="6" fill="#000000"/>
<rect x="418" y="1062" width="5" height="4" fill="#f2545b"/>
<rect x="420" y="1062" width="1" height="20" fill="#000000"/>
<rect x="426" y="1069" width="5" height="27" fill="#000000"/>
<rect x="428" y="1066" width="1" height="39" fill="#000000"/>
<rect x="435" y="1093" width="5" height="11" fill="#000000"/>
<rect x="437" y="1081" width="1" height="29" fill="#000000"/>
<rect x="443" y="1086" width="5" height="17" fill="#ffffff"/>
<rect x="443" y="1103" width="5" height="1" fill="#00897b"/>
<rect x="445" y="1077" width="1" height="51" fill="#ffffff"/>
<rect x="451" y="1085" width="5" height="18" fill="#000000"/>
<rect x="453" y="1082" width="1" height="30" fill="#000000"/>
<rect x="460" y="1048" width="5" height="47" fill="#ffffff"/>
<rect x="460" y="1095" width="5" height="8" fill="#00897b"/>
<rect x="462" y="1047" width="1" height="48" fill="#ffffff"/>
<rect x="468" y="1046" width="5" height="19" fill="#000000"/>
<rect x="470" y="1041" width="1" height="35" fill="#000000"/>
<rect x="476" y="1053" width="5" height="10" fill="#ffffff"/>
<rect x="476" y="1063" width="5" height="2" fill="#00897b"/>
<rect x="478" y="1046" width="1" height="23" fill="#ffffff"/>
<rect x="485" y="1052" width="5" height="14" fill="#000000"/>
<rect x="487" y="1035" width="1" height="38" fill="#000000"/>
<rect x="493" y="1063" width="5" height="28" fill="#000000"/>
<rect x="495" y="1051" width="1" height="41" fill="#000000"/>
<rect x="501" y="1081" width="5" height="5" fill="#ffffff"/>
<rect x="501" y="1086" width="5" height="5" fill="#00897b"/>
<rect x="503" y="1073" width="1" height="27" fill="#ffffff"/>
<rect x="510" y="1082" width="5" height="2" fill="#000000"/>
<rect x="510" y="1081" width="5" height="1" fill="#f2545b"/>
<rect x="512" y="1067" width="1" height="28" fill="#000000"/>
<rect x="518" y="1063" width="5" height="21" fill="#ffffff"/>
<rect x="520" y="1060" width="1" height="27" fill="#ffffff"/>
<rect x="526" y="1045" width="5" height="18" fill="#ffffff"/>
<rect x="526" y="1063" width="5" height="1" fill="#00897b"/>
<rect x="528" y="1037" width="1" height="36" fill="#ffffff"/>
<rect x="535" y="1017" width="5" height="30" fill="#ffffff"/>
<rect x="537" y="1009" width="1" height="40" fill="#ffffff"/>
<rect x="543" y="1013" width="5" height="34" fill="#000000"/>
<rect x="545" y="1006" width="1" height="41" fill="#000000"/>
<rect x="551" y="1044" width="5" height="2" fill="#ffffff"/>
<rect x="551" y="1046" width="5" height="1" fill="#00897b"/>
<rect x="553" y="1035" width="1" height="22" fill="#ffffff"/>
<rect x="560" y="1039" width="5" height="16" fill="#000000"/>
<rect x="562" y="1037" width="1" height="21" fill="#000000"/>
<rect x="568" y="1054" width="5" height="1" fill="#000000"/>
<rect x="570" y="1044" width="1" height="24" fill="#000000"/>
<rect x="576" y="1055" width="5" height="1" fill="#000000"/>
<rect x="576" y="1054" width="5" height="1" fill="#f2545b"/>
<rect x="578" y="1052" width="1" height="20" fill="#000000"/>
<rect x="585" y="1046" width="5" height="9" fill="#000000"/>
<rect x="587" y="1041" width="1" height="27" fill="#000000"/>
<rect x="593" y="1061" width="5" height="21" fill="#000000"/>
<rect x="593" y="1055" width="5" height="6" fill="#f2545b"/>
<rect x="595" y="1058" width="1" height="41" fill="#000000"/>
<rect x="602" y="1077" width="5" height="6" fill="#ffffff"/>
<rect x="604" y="1074" width="1" height="15" fill="#ffffff"/>
<rect x="610" y="1076" width="5" height="5" fill="#000000"/>
<rect x="612" y="1066" width="1" height="24" fill="#000000"/>
<rect x="618" y="1081" width="5" height="31" fill="#000000"/>
<rect x="618" y="1079" width="5" height="2" fill="#f2545b"/>
<rect x="620" y="1081" width="1" height="41" fill="#000000"/>
<rect x="627" y="1094" width="5" height="20" fill="#ffffff"/>
<rect x="629" y="1090" width="1" height="39" fill="#ffffff"/>
<rect x="635" y="1073" width="5" height="22" fill="#ffffff"/>
<rect x="637" y="1062" width="1" height="33" fill="#ffffff"/>
<rect x="643" y="1062" width="5" height="11" fill="#ffffff"/>
<rect x="643" y="1073" width="5" height="1" fill="#00897b"/>
<rect x="645" y="1060" width="1" height="20" fill="#ffffff"/>
<rect x="652" y="1061" width="5" height="22" fill="#000000"/>
<rect x="654" y="1057" width="1" height="32" fill="#000000"/>
<rect x="660" y="1074" width="5" height="9" fill="#ffffff"/>
<rect x="662" y="1069" width="1" height="14" fill="#ffffff"/>
<rect x="668" y="1071" width="5" height="4" fill="#000000"/>
<rect x="670" y="1071" width="1" height="27" fill="#000000"/>
<rect x="677" y="1072" width="5" height="24" fill="#000000"/>
<rect x="679" y="1069" width="1" height="35" fill="#000000"/>
<rect x="685" y="1088" width="5" height="7" fill="#ffffff"/>
<rect x="687" y="1086" width="1" height="20" fill="#ffffff"/>
<rect x="693" y="1082" width="5" height="6" fill="#ffffff"/>
<rect x="693" y="1088" width="5" height="1" fill="#00897b"/>
<rect x="695" y="1078" width="1" height="12" fill="#ffffff"/>
<rect x="702" y="1063" width="5" height="19" fill="#ffffff"/>
<rect x="702" y="1082" width="5" height="1" fill="#00897b"/>
<rect x="704" y="1055" width="1" height="27" fill="#ffffff"/>
<rect x="710" y="1059" width="5" height="12" fill="#000000"/>
<rect x="712" y="1052" width="1" height="20" fill="#000000"/>
<rect x="718" y="1070" width="5" height="12" fill="#000000"/>
<rect x="720" y="1057" width="1" height="27" fill="#000000"/>
<rect x="727" y="1068" width="5" height="13" fill="#ffffff"/>
<rect x="727" y="1081" width="5" height="1" fill="#00897b"/>
<rect x="729" y="1050" width="1" height="34" fill="#ffffff"/>
<rect x="735" y="1066" width="5" height="8" fill="#000000"/>
<rect x="737" y="1065" width="1" height="25" fill="#000000"/>
<rect x="743" y="1066" width="5" height="6" fill="#ffffff"/>
<rect x="743" y="1072" width="5" height="2" fill="#00897b"/>
<rect x="745" y="1060" width="1" height="17" fill="#ffffff"/>
<rect x="752" y="1039" width="5" height="29" fill="#ffffff"/>
<rect x="754" y="1036" width="1" height="33" fill="#ffffff"/>
<rect x="760" y="1018" width="5" height="20" fill="#ffffff"/>
<rect x="760" y="1038" width="5" height="2" fill="#00897b"/>
<rect x="762" y="1017" width="1" height="29" fill="#ffffff"/>
<rect x="768" y="1019" width="5" height="26" fill="#000000"/>
<rect x="768" y="1018" width="5" height="1" fill="#f2545b"/>
<rect x="770" y="1014" width="1" height="34" fill="#000000"/>
<rect x="777" y="1042" width="5" height="14" fill="#000000"/>
<rect x="779" y="1040" width="1" height="25" fill="#000000"/>
<rect x="785" y="1055" width="5" height="20" fill="#000000"/>
<rect x="787" y="1052" width="1" height="29" fill="#000000"/>
<rect x="793" y="1078" width="5" height="10" fill="#000000"/>
<rect x="793" y="1074" width="5" height="4" fill="#f2545b"/>
<rect x="795" y="1071" width="1" height="24" fill="#000000"/>
<rect x="802" y="1080" width="5" height="9" fill="#ffffff"/>
<rect x="804" y="1076" width="1" height="15" fill="#ffffff"/>
<rect x="810" y="1080" width="5" height="32" fill="#000000"/>
<rect x="812" y="1076" width="1" height="39" fill="#000000"/>
<rect x="818" y="1102" width="5" height="8" fill="#ffffff"/>
<rect x="818" y="1110" width="5" height="1" fill="#00897b"/>
<rect x="820" y="1087" width="1" height="23" fill="#ffffff"/>
<rect x="827" y="1059" width="5" height="43" fill="#ffffff"/>
<rect x="827" y="1102" width="5" height="1" fill="#00897b"/>
<rect x="829" y="1058" width="1" height="49" fill="#ffffff"/>
<rect x="835" y="1052" width="5" height="7" fill="#ffffff"/>
<rect x="835" y="1059" width="5" height="1" fill="#00897b"/>
<rect x="837" y="1045" width="1" height="23" fill="#ffffff"/>
<rect x="843" y="1048" width="5" height="4" fill="#ffffff"/>
<rect x="843" y="1052" width="5" height="1" fill="#00897b"/>
<rect x="845" y="1042" width="1" height="24" fill="#ffffff"/>
<rect x="852" y="1048" width="5" height="8" fill="#000000"/>
<rect x="854" y="1045" width="1" height="16" fill="#000000"/>
<rect x="860" y="1039" width="5" height="15" fill="#ffffff"/>
<rect x="860" y="1054" width="5" height="2" fill="#00897b"/>
<rect x="862" y="1036" width="1" height="18" fill="#ffffff"/>
<rect x="868" y="1037" width="5" height="2" fill="#000000"/>
<rect x="870" y="1031" width="1" height="20" fill="#000000"/>
<rect x="877" y="1037" width="5" height="35" fill="#000000"/>
<rect x="879" y="1036" width="1" height="36" fill="#000000"/>
<rect x="885" y="1067" width="5" height="4" fill="#ffffff"/>
<rect x="885" y="1071" width="5" height="1" fill="#00897b"/>
<rect x="887" y="1061" width="1" height="16" fill="#ffffff"/>
<rect x="893" y="1063" width="5" height="4" fill="#ffffff"/>
<rect x="893" y="1067" width="5" height="1" fill="#00897b"/>
<rect x="895" y="1054" width="1" height="17" fill="#ffffff"/>
<rect x="902" y="1062" width="5" height="14" fill="#000000"/>
<rect x="904" y="1052" width="1" height="26" fill="#000000"/>
<rect x="910" y="1074" width="5" height="1" fill="#000000"/>
<rect x="910" y="1075" width="5" height="1" fill="#00897b"/>
<rect x="912" y="1067" width="1" height="10" fill="#000000"/>
<rect x="918" y="1075" width="5" height="1" fill="#000000"/>
<rect x="920" y="1061" width="1" height="21" fill="#000000"/>
<rect x="927" y="1076" width="5" height="12" fill="#000000"/>
<rect x="929" y="1069" width="1" height="19" fill="#000000"/>
<rect x="935" y="1066" width="5" height="21" fill="#ffffff"/>
<rect x="935" y="1087" width="5" height="1" fill="#00897b"/>
<rect x="937" y="1066" width="1" height="23" fill="#ffffff"/>
<rect x="943" y="1066" width="5" height="8" fill="#000000"/>
<rect x="945" y="1065" width="1" height="15" fill="#000000"/>
<rect x="952" y="1054" width="5" height="19" fill="#ffffff"/>
<rect x="952" y="1073" width="5" height="1" fill="#00897b"/>
<rect x="954" y="1049" width="1" height="34" fill="#ffffff"/>
<rect x="960" y="1055" width="5" height="3" fill="#000000"/>
<rect x="960" y="1054" width="5" height="1" fill="#f2545b"/>
<rect x="962" y="1051" width="1" height="9" fill="#000000"/>
<rect x="968" y="1041" width="5" height="17" fill="#ffffff"/>
<rect x="970" y="1041" width="1" height="24" fill="#ffffff"/>
<rect x="977" y="1038" width="5" height="5" fill="#ffffff"/>
<rect x="979" y="1038" width="1" height="14" fill="#ffffff"/>
<rect x="985" y="1027" width="5" height="12" fill="#ffffff"/>
<rect x="987" y="1023" width="1" height="23" fill="#ffffff"/>
<rect x="993" y="1009" width="5" height="19" fill="#ffffff"/>
<rect x="995" y="1005" width="1" height="28" fill="#ffffff"/>
<rect x="1002" y="992" width="5" height="19" fill="#ffffff"/>
<rect x="1004" y="984" width="1" height="30" fill="#ffffff"/>
<rect x="1010" y="958" width="5" height="35" fill="#ffffff"/>
<rect x="1012" y="954" width="1" height="41" fill="#ffffff"/>
<rect x="1018" y="943" width="5" height="16" fill="#ffffff"/>
<rect x="1020" y="931" width="1" height="30" fill="#ffffff"/>
<rect x="1027" y="942" width="5" height="10" fill="#000000"/>
<rect x="1029" y="940" width="1" height="30" fill="#000000"/>
<rect x="1035" y="927" width="5" height="25" fill="#ffffff"/>
<rect x="1037" y="919" width="1" height="34" fill="#ffffff"/>
<rect x="1043" y="897" width="5" height="28" fill="#ffffff"/>
<rect x="1043" y="925" width="5" height="3" fill="#00897b"/>
<rect x="1045" y="891" width="1" height="40" fill="#ffffff"/>
<rect x="1052" y="897" width="5" height="7" fill="#000000"/>
<rect x="1054" y="874" width="1" height="30" fill="#000000"/>
<rect x="1060" y="895" width="5" height="8" fill="#ffffff"/>
<rect x="1060" y="903" width="5" height="1" fill="#00897b"/>
<rect x="1062" y="885" width="1" height="22" fill="#ffffff"/>
<rect x="1068" y="892" width="5" height="7" fill="#000000"/>
<rect x="1070" y="889" width="1" height="22" fill="#000000"/>
<rect x="1077" y="893" width="5" height="5" fill="#ffffff"/>
<rect x="1077" y="898" width="5" height="1" fill="#00897b"/>
<rect x="1079" y="885" width="1" height="16" fill="#ffffff"/>
<rect x="1085" y="872" width="5" height="21" fill="#ffffff"/>
<rect x="1085" y="893" width="5" height="1" fill="#00897b"/>
<rect x="1087" y="868" width="1" height="35" fill="#ffffff"/>
<rect x="1093" y="866" width="5" height="6" fill="#ffffff"/>
<rect x="1093" y="872" width="5" height="1" fill="#00897b"/>
<rect x="1095" y="855" width="1" height="19" fill="#ffffff"/>
<rect x="1102" y="865" width="5" height="19" fill="#000000"/>
<rect x="1104" y="854" width="1" height="37" fill="#000000"/>
<rect x="1110" y="883" width="5" height="11" fill="#000000"/>
<rect x="1112" y="875" width="1" height="27" fill="#000000"/>
<rect x="1118" y="868" width="5" height="26" fill="#ffffff"/>
<rect x="1120" y="868" width="1" height="31" fill="#ffffff"/>
<rect x="1127" y="832" width="5" height="36" fill="#ffffff"/>
<rect x="1127" y="868" width="5" height="1" fill="#00897b"/>
<rect x="1129" y="831" width="1" height="37" fill="#ffffff"/>
<rect x="1135" y="822" width="5" height="11" fill="#ffffff"/>
<rect x="1137" y="806" width="1" height="31" fill="#ffffff"/>
<rect x="1143" y="821" width="5" height="18" fill="#000000"/>
<rect x="1145" y="813" width="1" height="36" fill="#000000"/>
<rect x="1152" y="830" width="5" height="7" fill="#ffffff"/>
<rect x="1152" y="837" width="5" height="1" fill="#00897b"/>
<rect x="1154" y="823" width="1" height="22" fill="#ffffff"/>
<rect x="1160" y="824" width="5" height="9" fill="#ffffff"/>
<rect x="1162" y="810" width="1" height="29" fill="#ffffff"/>
<rect x="1168" y="780" width="5" height="42" fill="#ffffff"/>
<rect x="1168" y="822" width="5" height="3" fill="#00897b"/>
<rect x="1170" y="780" width="1" height="42" fill="#ffffff"/>
<rect x="1177" y="766" width="5" height="16" fill="#ffffff"/>
<rect x="1179" y="758" width="1" height="46" fill="#ffffff"/>
<rect x="1185" y="762" width="5" height="4" fill="#ffffff"/>
<rect x="1185" y="766" width="5" height="1" fill="#00897b"/>
<rect x="1187" y="744" width="1" height="25" fill="#ffffff"/>
<rect x="1193" y="762" width="5" height="6" fill="#000000"/>
<rect x="1195" y="743" width="1" height="46" fill="#000000"/>
<rect x="1202" y="749" width="5" height="19" fill="#ffffff"/>
<rect x="1204" y="746" width="1" height="32" fill="#ffffff"/>
<rect x="1210" y="705" width="5" height="42" fill="#ffffff"/>
<rect x="1210" y="747" width="5" height="3" fill="#00897b"/>
<rect x="1212" y="700" width="1" height="47" fill="#ffffff"/>
<rect x="1218" y="692" width="5" height="15" fill="#ffffff"/>
<rect x="1220" y="687" width="1" height="30" fill="#ffffff"/>
<rect x="1227" y="657" width="5" height="34" fill="#ffffff"/>
<rect x="1227" y="691" width="5" height="2" fill="#00897b"/>
<rect x="1229" y="647" width="1" height="44" fill="#ffffff"/>
<rect x="1235" y="661" width="5" height="36" fill="#000000"/>
<rect x="1235" y="657" width="5" height="4" fill="#f2545b"/>
<rect x="1237" y="648" width="1" height="67" fill="#000000"/>
<rect x="1243" y="672" width="5" height="25" fill="#ffffff"/>
<rect x="1245" y="669" width="1" height="45" fill="#ffffff"/>
<rect x="1252" y="617" width="5" height="56" fill="#ffffff"/>
<rect x="1254" y="613" width="1" height="67" fill="#ffffff"/>
<rect x="1260" y="598" width="5" height="19" fill="#ffffff"/>
<rect x="1260" y="617" width="5" height="1" fill="#00897b"/>
<rect x="1262" y="576" width="1" height="53" fill="#ffffff"/>
<rect x="1268" y="559" width="5" height="41" fill="#ffffff"/>
<rect x="1270" y="553" width="1" height="47" fill="#ffffff"/>
<rect x="1277" y="490" width="5" height="68" fill="#ffffff"/>
<rect x="1277" y="558" width="5" height="2" fill="#00897b"/>
<rect x="1279" y="487" width="1" height="77" fill="#ffffff"/>
<rect x="1285" y="482" width="5" height="51" fill="#000000"/>
<rect x="1287" y="457" width="1" height="115" fill="#000000"/>
<rect x="1293" y="472" width="5" height="53" fill="#ffffff"/>
<rect x="1293" y="525" width="5" height="8" fill="#00897b"/>
<rect x="1295" y="457" width="1" height="96" fill="#ffffff"/>
<rect x="1302" y="466" width="5" height="143" fill="#000000"/>
<rect x="1304" y="460" width="1" height="175" fill="#000000"/>
<rect x="1310" y="609" width="5" height="14" fill="#000000"/>
<rect x="1310" y="608" width="5" height="2" fill="#f2545b"/>
<rect x="1312" y="587" width="1" height="93" fill="#000000"/>
<rect x="1318" y="608" width="5" height="10" fill="#ffffff"/>
<rect x="1318" y="618" width="5" height="6" fill="#00897b"/>
<rect x="1320" y="591" width="1" height="52" fill="#ffffff"/>
<rect x="1327" y="608" width="5" height="8" fill="#000000"/>
<rect x="1329" y="597" width="1" height="59" fill="#000000"/>
<rect x="1335" y="632" width="5" height="61" fill="#000000"/>
<rect x="1335" y="615" width="5" height="17" fill="#f2545b"/>
<rect x="1337" y="619" width="1" height="80" fill="#000000"/>
<rect x="1343" y="688" width="5" height="23" fill="#000000"/>
<rect x="1345" y="672" width="1" height="77" fill="#000000"/>
<rect x="1352" y="708" width="5" height="16" fill="#000000"/>
<rect x="1354" y="664" width="1" height="73" fill="#000000"/>
<rect x="1360" y="667" width="5" height="63" fill="#ffffff"/>
<rect x="1362" y="666" width="1" height="67" fill="#ffffff"/>
<rect x="1368" y="670" width="5" height="12" fill="#000000"/>
<rect x="1368" y="669" width="5" height="1" fill="#f2545b"/>
<rect x="1370" y="655" width="1" height="44" fill="#000000"/>
<rect x="1377" y="681" width="5" height="5" fill="#ffffff"/>
<rect x="1379" y="664" width="1" height="41" fill="#ffffff"/>
<rect x="1385" y="679" width="5" height="44" fill="#000000"/>
<rect x="1387" y="679" width="1" height="45" fill="#000000"/>
<rect x="1393" y="694" width="5" height="26" fill="#ffffff"/>
<rect x="1393" y="720" width="5" height="3" fill="#00897b"/>
<rect x="1395" y="688" width="1" height="36" fill="#ffffff"/>
<rect x="1402" y="696" width="5" height="6" fill="#ffffff"/>
<rect x="1402" y="695" width="5" height="1" fill="#f2545b"/>
<rect x="1404" y="671" width="1" height="31" fill="#ffffff"/>
<rect x="1410" y="681" width="5" height="14" fill="#ffffff"/>
<rect x="1410" y="695" width="5" height="1" fill="#00897b"/>
<rect x="1412" y="666" width="1" height="29" fill="#ffffff"/>
<rect x="1418" y="614" width="5" height="66" fill="#ffffff"/>
<rect x="1418" y="680" width="5" height="1" fill="#00897b"/>
<rect x="1420" y="613" width="1" height="67" fill="#ffffff"/>
<rect x="1427" y="607" width="5" height="7" fill="#ffffff"/>
<rect x="1427" y="614" width="5" height="1" fill="#00897b"/>
<rect x="1429" y="594" width="1" height="31" fill="#ffffff"/>
<rect x="1435" y="567" width="5" height="39" fill="#ffffff"/>
<rect x="1435" y="606" width="5" height="1" fill="#00897b"/>
<rect x="1437" y="557" width="1" height="67" fill="#ffffff"/>
<rect x="1443" y="562" width="5" height="20" fill="#000000"/>
<rect x="1445" y="537" width="1" height="59" fill="#000000"/>
<rect x="1452" y="577" width="5" height="56" fill="#000000"/>
<rect x="1454" y="557" width="1" height="106" fill="#000000"/>
<rect x="1460" y="636" width="5" height="20" fill="#000000"/>
<rect x="1460" y="632" width="5" height="4" fill="#f2545b"/>
<rect x="1462" y="619" width="1" height="59" fill="#000000"/>
<rect x="1468" y="642" width="5" height="11" fill="#ffffff"/>
<rect x="1468" y="653" width="5" height="3" fill="#00897b"/>
<rect x="1470" y="633" width="1" height="50" fill="#ffffff"/>
<rect x="1477" y="636" width="5" height="7" fill="#ffffff"/>
<rect x="1479" y="604" width="1" height="45" fill="#ffffff"/>
<rect x="1485" y="630" width="5" height="7" fill="#000000"/>
<rect x="1487" y="617" width="1" height="42" fill="#000000"/>
<rect x="1493" y="639" width="5" height="6" fill="#000000"/>
<rect x="1493" y="637" width="5" height="2" fill="#f2545b"/>
<rect x="1495" y="623" width="1" height="46" fill="#000000"/>
<rect x="1502" y="603" width="5" height="40" fill="#ffffff"/>
<rect x="1502" y="643" width="5" height="2" fill="#00897b"/>
<rect x="1504" y="600" width="1" height="59" fill="#ffffff"/>
<rect x="1510" y="602" width="5" height="4" fill="#000000"/>
<rect x="1512" y="588" width="1" height="30" fill="#000000"/>
<rect x="1518" y="586" width="5" height="18" fill="#ffffff"/>
<rect x="1518" y="604" width="5" height="2" fill="#00897b"/>
<rect x="1520" y="580" width="1" height="24" fill="#ffffff"/>
<rect x="1527" y="585" width="5" height="4" fill="#000000"/>
<rect x="1529" y="583" width="1" height="15" fill="#000000"/>
<rect x="1535" y="555" width="5" height="34" fill="#ffffff"/>
<rect x="1537" y="548" width="1" height="42" fill="#ffffff"/>
<rect x="1543" y="545" width="5" height="4" fill="#ffffff"/>
<rect x="1543" y="549" width="5" height="7" fill="#00897b"/>
<rect x="1545" y="526" width="1" height="35" fill="#ffffff"/>
<rect x="1552" y="545" width="5" height="17" fill="#000000"/>
<rect x="1554" y="543" width="1" height="42" fill="#000000"/>
<rect x="1560" y="562" width="5" height="1" fill="#ffffff"/>
<rect x="1560" y="561" width="5" height="1" fill="#f2545b"/>
<rect x="1562" y="539" width="1" height="28" fill="#ffffff"/>
<rect x="1568" y="560" width="5" height="1" fill="#ffffff"/>
<rect x="1568" y="561" width="5" height="1" fill="#00897b"/>
<rect x="1570" y="552" width="1" height="27" fill="#ffffff"/>
<rect x="1577" y="558" width="5" height="8" fill="#000000"/>
<rect x="1579" y="529" width="1" height="40" fill="#000000"/>
<rect x="1585" y="565" width="5" height="6" fill="#000000"/>
<rect x="1587" y="553" width="1" height="25" fill="#000000"/>
<rect x="1593" y="559" width="5" height="11" fill="#ffffff"/>
<rect x="1593" y="570" width="5" height="1" fill="#00897b"/>
<rect x="1595" y="551" width="1" height="31" fill="#ffffff"/>
<rect x="1602" y="547" width="5" height="12" fill="#ffffff"/>
<rect x="1602" y="559" width="5" height="1" fill="#00897b"/>
<rect x="1604" y="541" width="1" height="34" fill="#ffffff"/>
<rect x="1610" y="517" width="5" height="31" fill="#ffffff"/>
<rect x="1612" y="513" width="1" height="49" fill="#ffffff"/>
<rect x="1618" y="505" width="5" height="11" fill="#ffffff"/>
<rect x="1618" y="516" width="5" height="2" fill="#00897b"/>
<rect x="1620" y="473" width="1" height="57" fill="#ffffff"/>
</g>
<!--CANDLES-->
<line x1="7" y1="504.5" x2="3223" y2="504.5" stroke="#80deea" stroke-width="1" stroke-dasharray="1 2"/>
<line x1="8" y1="505.5" x2="3224" y2="505.5" stroke="#089981" stroke-width="1" stroke-dasharray="1 2"/>
<line x1="7" y1="506.5" x2="3224" y2="506.5" stroke="#00bcd4" stroke-width="1" stroke-dasharray="1 2"/>
<text x="1737" y="447" font-size="6.5" fill="#1a1d29" text-anchor="middle" textLength="33" lengthAdjust="spacingAndGlyphs">Weak High</text>
<text x="1749.5" y="476.5" font-size="9.5" fill="#2f62ff" textLength="17.5" lengthAdjust="spacingAndGlyphs" stroke="#2f62ff" stroke-width="0.4">PDH</text>
<text x="1749.5" y="529.5" font-size="9.5" fill="#2f62ff" textLength="17.5" lengthAdjust="spacingAndGlyphs" stroke="#2f62ff" stroke-width="0.4">PWH</text>
<text x="1749.5" y="533.5" font-size="9.5" fill="#2f62ff" textLength="17.5" lengthAdjust="spacingAndGlyphs" stroke="#2f62ff" stroke-width="0.4">PDL</text>
<text x="1749.5" y="540.5" font-size="9.5" fill="#2f62ff" textLength="17.5" lengthAdjust="spacingAndGlyphs" stroke="#2f62ff" stroke-width="0.4">PMH</text>
<text x="1749.5" y="588.5" font-size="9.5" fill="#2f62ff" textLength="17.5" lengthAdjust="spacingAndGlyphs" stroke="#2f62ff" stroke-width="0.4">PWL</text>
<text x="1749.5" y="727.5" font-size="9.5" fill="#2f62ff" textLength="17.5" lengthAdjust="spacingAndGlyphs" stroke="#2f62ff" stroke-width="0.4">PML</text>
<text x="1562" y="519" font-size="7" fill="#1a1d29" text-anchor="middle" textLength="13.3" lengthAdjust="spacingAndGlyphs" stroke="#1a1d29" stroke-width="0.15">EQH</text>
<text x="779" y="995.2" font-size="9.5" fill="#1e3a9e" text-anchor="middle" textLength="16.7" lengthAdjust="spacingAndGlyphs">BOS</text>
<text x="1737.3" y="1143" font-size="6.8" fill="#2448c0" text-anchor="middle" font-weight="bold" textLength="35.5" lengthAdjust="spacingAndGlyphs">Strong Low</text>
<text x="220" y="966.3" font-size="9.5" fill="#1a1d29" text-anchor="middle" font-weight="bold" textLength="12.7" lengthAdjust="spacingAndGlyphs">HH</text>
<text x="545" y="995.3" font-size="9.5" fill="#1a1d29" text-anchor="middle" font-weight="bold" textLength="11.3" lengthAdjust="spacingAndGlyphs">LH</text>
<text x="320" y="1173.2" font-size="9.5" fill="#ff9800" text-anchor="middle" textLength="17" lengthAdjust="spacingAndGlyphs">BOS</text>
<text x="512" y="1023.3" font-size="9.5" fill="#ffffff" text-anchor="middle" font-weight="bold" textLength="30" lengthAdjust="spacingAndGlyphs">CHoCH</text>
<text x="562" y="1119.2" font-size="9.5" fill="#ff9800" text-anchor="middle" textLength="29.2" lengthAdjust="spacingAndGlyphs" stroke="#ff9800" stroke-width="0.25">CHoCH</text>
<text x="703" y="1045.2" font-size="9.5" fill="#ffffff" text-anchor="middle" font-weight="bold" textLength="30" lengthAdjust="spacingAndGlyphs">CHoCH</text>
<text x="753" y="1125.2" font-size="9.5" fill="#ff9800" text-anchor="middle" textLength="29.2" lengthAdjust="spacingAndGlyphs" stroke="#ff9800" stroke-width="0.25">CHoCH</text>
<text x="628" y="1148.2" font-size="9.5" fill="#1e3a9e" text-anchor="middle" font-weight="bold" textLength="11.3" lengthAdjust="spacingAndGlyphs">HL</text>
<text x="1128.5" y="444.5" font-size="8" fill="#ffffff" text-anchor="middle" font-weight="bold" textLength="38" lengthAdjust="spacingAndGlyphs">Premium</text>
<text x="1128.5" y="1147.5" font-size="8" fill="#1a1d29" text-anchor="middle" textLength="36" lengthAdjust="spacingAndGlyphs">Discount</text>
<text x="1632.8" y="796" font-size="9.5" fill="#8c8ea1" textLength="48.8" lengthAdjust="spacingAndGlyphs">Equilibrium</text>
<text x="1825" y="339.5" font-size="20" fill="#000000" textLength="192" lengthAdjust="spacingAndGlyphs" stroke="#000" stroke-width="0.3">daily premium supply</text>
<text x="1708" y="416.5" font-size="20" fill="#000000" textLength="233" lengthAdjust="spacingAndGlyphs" stroke="#000" stroke-width="0.3">short-term extension area</text>
<text x="1786" y="487" font-size="20" fill="#000000" textLength="120" lengthAdjust="spacingAndGlyphs" stroke="#000" stroke-width="0.3">active ceiling</text>
<text x="1681" y="537.5" font-size="20" fill="#000000" textLength="170" lengthAdjust="spacingAndGlyphs" stroke="#000" stroke-width="0.3">daily decision zone</text>
<text x="1656.5" y="605.5" font-size="20" fill="#000000" textLength="209.4" lengthAdjust="spacingAndGlyphs" stroke="#000" stroke-width="0.3">structural daily support</text>
<text x="1893.6" y="605.5" font-size="20" fill="#000000" textLength="157.4" lengthAdjust="spacingAndGlyphs" stroke="#000" stroke-width="0.3">first defense area</text>
<path d="M1874.2,600.2H1891 M1886.8,596.6L1891.3,600.2L1886.8,603.8" fill="none" stroke="#000" stroke-width="1.2" shape-rendering="geometricPrecision"/>
<text x="1791" y="696.5" font-size="20" fill="#000000" textLength="192" lengthAdjust="spacingAndGlyphs" stroke="#000" stroke-width="0.3">deeper pullback zone</text>
<text x="1838" y="783.5" font-size="20" fill="#000000" textLength="166" lengthAdjust="spacingAndGlyphs" stroke="#000" stroke-width="0.3">deep demand area</text>
<text x="1529.5" y="130" font-size="36.5" fill="#1848d8" textLength="199" lengthAdjust="spacingAndGlyphs" stroke="#1848d8" stroke-width="0.6">GoldFxMinds</text>
<text x="1464" y="172" font-size="19" fill="#6495e6" textLength="81" lengthAdjust="spacingAndGlyphs">PATIENCE</text>
<text x="1580.9" y="172" font-size="19" fill="#6495e6" textLength="93.6" lengthAdjust="spacingAndGlyphs">DISCIPLINE</text>
<text x="1711.1" y="172" font-size="19" fill="#6495e6" textLength="82.9" lengthAdjust="spacingAndGlyphs">FEARLESS</text>
<rect x="1561.6" y="158" width="1.6" height="16.5" fill="#6495e6" shape-rendering="geometricPrecision"/><rect x="1691.7" y="158" width="1.6" height="16.5" fill="#6495e6" shape-rendering="geometricPrecision"/>
<text x="1628" y="1153.6" font-size="13" fill="#747685" text-anchor="middle" textLength="72.6" lengthAdjust="spacingAndGlyphs">12/12/2025</text>
<text x="1627.7" y="1177.8" font-size="13" fill="#747685" text-anchor="middle" textLength="73.2" lengthAdjust="spacingAndGlyphs">XAUUSD 1 D</text>
<text x="15" y="99" font-size="12.5" fill="#1a1d29" font-weight="bold" textLength="210" lengthAdjust="spacingAndGlyphs">Gold Spot / U.S. Dollar &#183; 1D &#183; OANDA</text>
<text x="3310.5" y="1157.8" font-size="12" fill="#1c2030" text-anchor="end" textLength="52.5" lengthAdjust="spacingAndGlyphs">3,200.000</text>
<text x="3310.5" y="1098.7" font-size="12" fill="#1c2030" text-anchor="end" textLength="52.5" lengthAdjust="spacingAndGlyphs">3,300.000</text>
<text x="3310.5" y="1039.6" font-size="12" fill="#1c2030" text-anchor="end" textLength="52.5" lengthAdjust="spacingAndGlyphs">3,400.000</text>
<text x="3310.5" y="980.5" font-size="12" fill="#1c2030" text-anchor="end" textLength="52.5" lengthAdjust="spacingAndGlyphs">3,500.000</text>
<text x="3310.5" y="921.4" font-size="12" fill="#1c2030" text-anchor="end" textLength="52.5" lengthAdjust="spacingAndGlyphs">3,600.000</text>
<text x="3310.5" y="862.3" font-size="12" fill="#1c2030" text-anchor="end" textLength="52.5" lengthAdjust="spacingAndGlyphs">3,700.000</text>
<text x="3310.5" y="803.2" font-size="12" fill="#1c2030" text-anchor="end" textLength="52.5" lengthAdjust="spacingAndGlyphs">3,800.000</text>
<text x="3310.5" y="744.1" font-size="12" fill="#1c2030" text-anchor="end" textLength="52.5" lengthAdjust="spacingAndGlyphs">3,900.000</text>
<text x="3310.5" y="685.0" font-size="12" fill="#1c2030" text-anchor="end" textLength="52.5" lengthAdjust="spacingAndGlyphs">4,000.000</text>
<text x="3310.5" y="625.9" font-size="12" fill="#1c2030" text-anchor="end" textLength="52.5" lengthAdjust="spacingAndGlyphs">4,100.000</text>
<text x="3310.5" y="566.8" font-size="12" fill="#1c2030" text-anchor="end" textLength="52.5" lengthAdjust="spacingAndGlyphs">4,200.000</text>
<text x="3310.5" y="507.7" font-size="12" fill="#1c2030" text-anchor="end" textLength="52.5" lengthAdjust="spacingAndGlyphs">4,300.000</text>
<text x="3310.5" y="448.6" font-size="12" fill="#1c2030" text-anchor="end" textLength="52.5" lengthAdjust="spacingAndGlyphs">4,400.000</text>
<text x="3310.5" y="389.5" font-size="12" fill="#1c2030" text-anchor="end" textLength="52.5" lengthAdjust="spacingAndGlyphs">4,500.000</text>
<text x="3310.5" y="330.4" font-size="12" fill="#1c2030" text-anchor="end" textLength="52.5" lengthAdjust="spacingAndGlyphs">4,600.000</text>
<text x="3310.5" y="271.3" font-size="12" fill="#1c2030" text-anchor="end" textLength="52.5" lengthAdjust="spacingAndGlyphs">4,700.000</text>
<text x="3310.5" y="212.2" font-size="12" fill="#1c2030" text-anchor="end" textLength="52.5" lengthAdjust="spacingAndGlyphs">4,800.000</text>
<text x="3310.5" y="153.1" font-size="12" fill="#1c2030" text-anchor="end" textLength="52.5" lengthAdjust="spacingAndGlyphs">4,900.000</text>
<rect x="3250" y="447.2" width="66" height="16.5" fill="#80deea" rx="1.5" shape-rendering="geometricPrecision"/>
<text x="3310.5" y="459.05" font-size="12" fill="#131722" text-anchor="end" textLength="52.5" lengthAdjust="spacingAndGlyphs">4,300.780</text>
<rect x="3223.2" y="447.2" width="25.8" height="16.5" fill="#80deea" rx="1.5" shape-rendering="geometricPrecision"/>
<text x="3236" y="459.2" font-size="12" fill="#131722" text-anchor="middle" textLength="17.5" lengthAdjust="spacingAndGlyphs">Ask</text>
<rect x="3250" y="464.8" width="66" height="15.899999999999977" fill="#00897b" rx="1.5" shape-rendering="geometricPrecision"/>
<text x="3310.5" y="476.35" font-size="12" fill="#ffffff" text-anchor="end" font-weight="bold" textLength="52.5" lengthAdjust="spacingAndGlyphs">4,299.380</text>
<rect x="3250" y="481.5" width="66" height="15.899999999999977" fill="#000000" rx="1.5" shape-rendering="geometricPrecision"/>
<text x="3310.5" y="493.05" font-size="12" fill="#ffffff" text-anchor="end" font-weight="bold" textLength="52.5" lengthAdjust="spacingAndGlyphs">4,299.380</text>
<rect x="3250" y="498.4" width="66" height="16.600000000000023" fill="#00bcd4" rx="1.5" shape-rendering="geometricPrecision"/>
<text x="3310.5" y="510.3" font-size="12" fill="#131722" text-anchor="end" textLength="52.5" lengthAdjust="spacingAndGlyphs">4,297.980</text>
<rect x="3224" y="498.4" width="25" height="16.6" fill="#00bcd4" rx="1.5" shape-rendering="geometricPrecision"/>
<text x="3236.5" y="510.4" font-size="12" fill="#131722" text-anchor="middle" textLength="16" lengthAdjust="spacingAndGlyphs">Bid</text>
<rect x="3250" y="523" width="66" height="16.700000000000045" fill="#ff9800" rx="1.5" shape-rendering="geometricPrecision"/>
<text x="3310.5" y="534.95" font-size="12" fill="#131722" text-anchor="end" textLength="52.5" lengthAdjust="spacingAndGlyphs">4,255.159</text>
<rect x="3250" y="567" width="66" height="16.799999999999955" fill="#f48fb1" rx="1.5" shape-rendering="geometricPrecision"/>
<text x="3310.5" y="579.0" font-size="12" fill="#131722" text-anchor="end" textLength="52.5" lengthAdjust="spacingAndGlyphs">4,180.969</text>
<rect x="3250" y="607.1" width="66" height="16.5" fill="#000000" rx="1.5" shape-rendering="geometricPrecision"/>
<text x="3310.5" y="618.95" font-size="12" fill="#ffffff" text-anchor="end" font-weight="bold" textLength="52.5" lengthAdjust="spacingAndGlyphs">4,114.242</text>
<rect x="3250" y="781" width="66" height="16.600000000000023" fill="#2962ff" rx="1.5" shape-rendering="geometricPrecision"/>
<text x="3310.5" y="792.9" font-size="12" fill="#ffffff" text-anchor="end" font-weight="bold" textLength="52.5" lengthAdjust="spacingAndGlyphs">3,819.426</text>
<rect x="3250" y="948.8" width="66" height="16.700000000000045" fill="#f23645" rx="1.5" shape-rendering="geometricPrecision"/>
<text x="3310.5" y="960.75" font-size="12" fill="#ffffff" text-anchor="end" font-weight="bold" textLength="52.5" lengthAdjust="spacingAndGlyphs">3,535.576</text>
<rect x="3252.5" y="81.5" width="65" height="27" rx="4" fill="#ffffff" shape-rendering="geometricPrecision"/>
<text x="3262" y="99.5" font-size="11.5" fill="#131722" textLength="20.5" lengthAdjust="spacingAndGlyphs">USD</text>
<text x="103.5" y="1213.7" font-size="11.6" fill="#1c2030" text-anchor="middle">Apr</text>
<text x="278.5" y="1213.7" font-size="11.6" fill="#1c2030" text-anchor="middle">May</text>
<text x="462.5" y="1213.7" font-size="11.6" fill="#1c2030" text-anchor="middle">Jun</text>
<text x="637.5" y="1213.7" font-size="11.6" fill="#1c2030" text-anchor="middle">Jul</text>
<text x="829.5" y="1213.7" font-size="11.6" fill="#1c2030" text-anchor="middle">Aug</text>
<text x="1004.5" y="1213.7" font-size="11.6" fill="#1c2030" text-anchor="middle">Sep</text>
<text x="1187.5" y="1213.7" font-size="11.6" fill="#1c2030" text-anchor="middle">Oct</text>
<text x="1379.5" y="1213.7" font-size="11.6" fill="#1c2030" text-anchor="middle">Nov</text>
<text x="1545.5" y="1213.7" font-size="11.6" fill="#1c2030" text-anchor="middle">Dec</text>
<text x="1737.5" y="1213.7" font-size="12" fill="#1c2030" text-anchor="middle" font-weight="bold" textLength="28" lengthAdjust="spacingAndGlyphs">2026</text>
<text x="1921.5" y="1213.7" font-size="11.6" fill="#1c2030" text-anchor="middle">Feb</text>
<text x="2087.5" y="1213.7" font-size="11.6" fill="#1c2030" text-anchor="middle">Mar</text>
<text x="2271.5" y="1213.7" font-size="11.6" fill="#1c2030" text-anchor="middle">Apr</text>
<text x="2454.5" y="1213.7" font-size="11.6" fill="#1c2030" text-anchor="middle">May</text>
<text x="2629.5" y="1213.7" font-size="11.6" fill="#1c2030" text-anchor="middle">Jun</text>
<text x="2812.5" y="1213.7" font-size="11.6" fill="#1c2030" text-anchor="middle">Jul</text>
<text x="3004.5" y="1213.7" font-size="11.6" fill="#1c2030" text-anchor="middle">Aug</text>
<text x="3179.5" y="1213.7" font-size="11.6" fill="#1c2030" text-anchor="middle">Sep</text>
<text x="6.2" y="17" font-size="12" fill="#d1d4dc" font-weight="bold" textLength="75.8" lengthAdjust="spacingAndGlyphs">GoldFxMinds</text>
<text x="86.2" y="17" font-size="12" fill="#d1d4dc" textLength="367.2" lengthAdjust="spacingAndGlyphs">published on TradingView.com, December 14, 2025 09:09:46 EST</text>
<text x="6.2" y="34" font-size="12" fill="#d1d4dc" font-weight="bold" textLength="119.3" lengthAdjust="spacingAndGlyphs">OANDA:XAUUSD, 1D</text>
<text x="131.7" y="34" font-size="12" fill="#d1d4dc" textLength="55.9" lengthAdjust="spacingAndGlyphs">4,299.380</text>
<path d="M191.2,33.6L196,24.4L200.8,33.6Z" fill="#26a69a" shape-rendering="geometricPrecision"/>
<text x="205.7" y="34" font-size="12" fill="#d1d4dc" textLength="97.9" lengthAdjust="spacingAndGlyphs">+20.045 (+0.47%)</text>
<text x="308" y="34" font-size="12" fill="#d1d4dc" font-weight="bold" textLength="13.2" lengthAdjust="spacingAndGlyphs">O:</text>
<text x="323" y="34" font-size="12" fill="#26a69a" textLength="55.9" lengthAdjust="spacingAndGlyphs">4,282.930</text>
<text x="383.4" y="34" font-size="12" fill="#d1d4dc" font-weight="bold" textLength="12.1" lengthAdjust="spacingAndGlyphs">H:</text>
<text x="397" y="34" font-size="12" fill="#26a69a" textLength="56.4" lengthAdjust="spacingAndGlyphs">4,353.555</text>
<text x="458.4" y="34" font-size="12" fill="#d1d4dc" font-weight="bold" textLength="9.2" lengthAdjust="spacingAndGlyphs">L:</text>
<text x="469" y="34" font-size="12" fill="#26a69a" textLength="55.7" lengthAdjust="spacingAndGlyphs">4,257.275</text>
<text x="529.2" y="34" font-size="12" fill="#d1d4dc" font-weight="bold" textLength="11.2" lengthAdjust="spacingAndGlyphs">C:</text>
<text x="541.6" y="34" font-size="12" fill="#26a69a" textLength="55.9" lengthAdjust="spacingAndGlyphs">4,299.380</text>
<g fill="#d1d4dc" shape-rendering="geometricPrecision"><path d="M5.9,1236.7h9.3v11.2h-4.7v-6.5h-4.6z"/><circle cx="18.3" cy="1238.8" r="1.9"/><path d="M22.6,1236.7h5.8l-3.9,11.2h-5.9z"/></g>
<text x="33.4" y="1247.9" font-size="15.6" fill="#d1d4dc" font-weight="bold" textLength="91.6" lengthAdjust="spacingAndGlyphs">TradingView</text>
<g shape-rendering="geometricPrecision">
<defs><clipPath id="fl"><circle cx="0" cy="0" r="8.2"/></clipPath></defs>
<g transform="translate(1620.4,1183.5)"><circle r="11.2" fill="#111111"/><circle r="9.3" fill="#0f0f0f" stroke="#b548cc" stroke-width="1.4"/><path d="M1.6,-5.6L-4.2,1.0L-0.6,1.0L-2.0,5.8L4.2,-1.2L0.4,-1.2Z" fill="#b548cc"/></g>
<g transform="translate(1663,1183.1)"><circle r="10.9" fill="#f23645"/><circle r="9.4" fill="#111111"/><g clip-path="url(#fl)"><rect x="-9" y="-9" width="18" height="18" fill="#ffffff"/>
<rect x="-9" y="-5.45" width="18" height="2.75" fill="#ef5350"/>
<rect x="-9" y="0.05" width="18" height="2.75" fill="#ef5350"/>
<rect x="-9" y="5.55" width="18" height="2.75" fill="#ef5350"/>
<rect x="-9" y="-9" width="10.9" height="10.6" fill="#2b8fe9"/>
<rect x="-6.4" y="-6.3" width="1.2" height="1.2" fill="#ffffff"/>
<rect x="-3.9" y="-6.3" width="1.2" height="1.2" fill="#ffffff"/>
<rect x="-1.4" y="-6.3" width="1.2" height="1.2" fill="#ffffff"/>
<rect x="-6.4" y="-3.9" width="1.2" height="1.2" fill="#ffffff"/>
<rect x="-3.9" y="-3.9" width="1.2" height="1.2" fill="#ffffff"/>
<rect x="-1.4" y="-3.9" width="1.2" height="1.2" fill="#ffffff"/>
<rect x="-6.4" y="-1.5" width="1.2" height="1.2" fill="#ffffff"/>
<rect x="-3.9" y="-1.5" width="1.2" height="1.2" fill="#ffffff"/>
<rect x="-1.4" y="-1.5" width="1.2" height="1.2" fill="#ffffff"/>
</g></g>
<g transform="translate(1654.4,1183.1)"><circle r="10.9" fill="#f23645"/><circle r="9.4" fill="#111111"/><g clip-path="url(#fl)"><rect x="-9" y="-9" width="18" height="18" fill="#ffffff"/>
<rect x="-9" y="-5.45" width="18" height="2.75" fill="#ef5350"/>
<rect x="-9" y="0.05" width="18" height="2.75" fill="#ef5350"/>
<rect x="-9" y="5.55" width="18" height="2.75" fill="#ef5350"/>
<rect x="-9" y="-9" width="10.9" height="10.6" fill="#2b8fe9"/>
<rect x="-6.4" y="-6.3" width="1.2" height="1.2" fill="#ffffff"/>
<rect x="-3.9" y="-6.3" width="1.2" height="1.2" fill="#ffffff"/>
<rect x="-1.4" y="-6.3" width="1.2" height="1.2" fill="#ffffff"/>
<rect x="-6.4" y="-3.9" width="1.2" height="1.2" fill="#ffffff"/>
<rect x="-3.9" y="-3.9" width="1.2" height="1.2" fill="#ffffff"/>
<rect x="-1.4" y="-3.9" width="1.2" height="1.2" fill="#ffffff"/>
<rect x="-6.4" y="-1.5" width="1.2" height="1.2" fill="#ffffff"/>
<rect x="-3.9" y="-1.5" width="1.2" height="1.2" fill="#ffffff"/>
<rect x="-1.4" y="-1.5" width="1.2" height="1.2" fill="#ffffff"/>
</g></g>
<g transform="translate(1645.8,1183.1)"><circle r="10.9" fill="#f23645"/><circle r="9.4" fill="#111111"/><g clip-path="url(#fl)"><rect x="-9" y="-9" width="18" height="18" fill="#ffffff"/>
<rect x="-9" y="-5.45" width="18" height="2.75" fill="#ef5350"/>
<rect x="-9" y="0.05" width="18" height="2.75" fill="#ef5350"/>
<rect x="-9" y="5.55" width="18" height="2.75" fill="#ef5350"/>
<rect x="-9" y="-9" width="10.9" height="10.6" fill="#2b8fe9"/>
<rect x="-6.4" y="-6.3" width="1.2" height="1.2" fill="#ffffff"/>
<rect x="-3.9" y="-6.3" width="1.2" height="1.2" fill="#ffffff"/>
<rect x="-1.4" y="-6.3" width="1.2" height="1.2" fill="#ffffff"/>
<rect x="-6.4" y="-3.9" width="1.2" height="1.2" fill="#ffffff"/>
<rect x="-3.9" y="-3.9" width="1.2" height="1.2" fill="#ffffff"/>
<rect x="-1.4" y="-3.9" width="1.2" height="1.2" fill="#ffffff"/>
<rect x="-6.4" y="-1.5" width="1.2" height="1.2" fill="#ffffff"/>
<rect x="-3.9" y="-1.5" width="1.2" height="1.2" fill="#ffffff"/>
<rect x="-1.4" y="-1.5" width="1.2" height="1.2" fill="#ffffff"/>
</g></g>
<g transform="translate(1637.2,1183.1)"><circle r="10.9" fill="#f23645"/><circle r="9.4" fill="#111111"/><g clip-path="url(#fl)"><rect x="-9" y="-9" width="18" height="18" fill="#ffffff"/>
<rect x="-9" y="-5.45" width="18" height="2.75" fill="#ef5350"/>
<rect x="-9" y="0.05" width="18" height="2.75" fill="#ef5350"/>
<rect x="-9" y="5.55" width="18" height="2.75" fill="#ef5350"/>
<rect x="-9" y="-9" width="10.9" height="10.6" fill="#2b8fe9"/>
<rect x="-6.4" y="-6.3" width="1.2" height="1.2" fill="#ffffff"/>
<rect x="-3.9" y="-6.3" width="1.2" height="1.2" fill="#ffffff"/>
<rect x="-1.4" y="-6.3" width="1.2" height="1.2" fill="#ffffff"/>
<rect x="-6.4" y="-3.9" width="1.2" height="1.2" fill="#ffffff"/>
<rect x="-3.9" y="-3.9" width="1.2" height="1.2" fill="#ffffff"/>
<rect x="-1.4" y="-3.9" width="1.2" height="1.2" fill="#ffffff"/>
<rect x="-6.4" y="-1.5" width="1.2" height="1.2" fill="#ffffff"/>
<rect x="-3.9" y="-1.5" width="1.2" height="1.2" fill="#ffffff"/>
<rect x="-1.4" y="-1.5" width="1.2" height="1.2" fill="#ffffff"/>
</g></g>
</g>
<!--OVER-->
<rect x="7" y="76.9" width="3314" height="1.5" fill="#eceef5" shape-rendering="geometricPrecision"/>
</svg>
</body></html>
